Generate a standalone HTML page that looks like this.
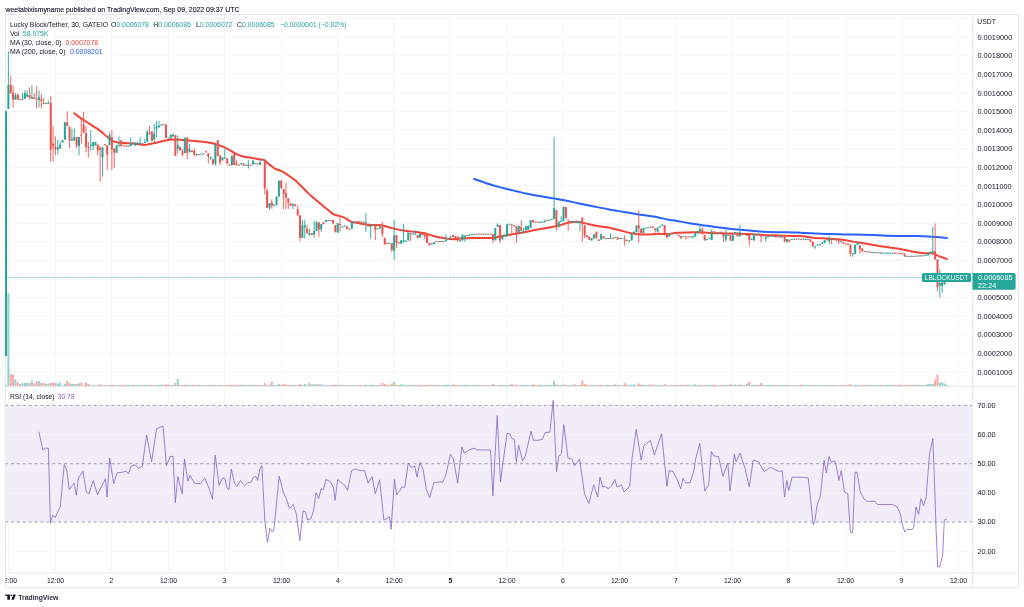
<!DOCTYPE html>
<html><head><meta charset="utf-8"><style>
html,body{margin:0;padding:0;background:#fff;width:1024px;height:607px;overflow:hidden;font-family:"Liberation Sans",sans-serif;}
svg{position:absolute;left:0;top:0;will-change:transform;}
svg text{font-family:"Liberation Sans",sans-serif;}
</style></head><body>
<svg width="1024" height="607" viewBox="0 0 1024 607">
<rect width="1024" height="607" fill="#fff"/>
<text x="5.5" y="11.7" font-size="6.9" fill="#131722" stroke="#131722" stroke-width="0.12">weetabixismyname published on TradingView.com, Sep 09, 2022 09:37 UTC</text>
<defs>
<clipPath id="cp"><rect x="5" y="14.5" width="967.5" height="372"/></clipPath>
<clipPath id="cr"><rect x="5.5" y="387.1" width="967" height="185.9"/></clipPath>
<clipPath id="ct"><rect x="5.5" y="573" width="967" height="15"/></clipPath>
</defs>
<rect x="5.5" y="14.5" width="1013" height="573.3" fill="none" stroke="#e6e8ec" stroke-width="1"/>
<g clip-path="url(#cp)">
<line x1="8.5" y1="14.5" x2="8.5" y2="386.5" stroke="#f4f5f7" stroke-width="1"/>
<line x1="55.5" y1="14.5" x2="55.5" y2="386.5" stroke="#f4f5f7" stroke-width="1"/>
<line x1="111.5" y1="14.5" x2="111.5" y2="386.5" stroke="#f4f5f7" stroke-width="1"/>
<line x1="168.5" y1="14.5" x2="168.5" y2="386.5" stroke="#f4f5f7" stroke-width="1"/>
<line x1="224.5" y1="14.5" x2="224.5" y2="386.5" stroke="#f4f5f7" stroke-width="1"/>
<line x1="281.5" y1="14.5" x2="281.5" y2="386.5" stroke="#f4f5f7" stroke-width="1"/>
<line x1="338" y1="14.5" x2="338" y2="386.5" stroke="#f4f5f7" stroke-width="1"/>
<line x1="394" y1="14.5" x2="394" y2="386.5" stroke="#f4f5f7" stroke-width="1"/>
<line x1="450.5" y1="14.5" x2="450.5" y2="386.5" stroke="#f4f5f7" stroke-width="1"/>
<line x1="507" y1="14.5" x2="507" y2="386.5" stroke="#f4f5f7" stroke-width="1"/>
<line x1="563" y1="14.5" x2="563" y2="386.5" stroke="#f4f5f7" stroke-width="1"/>
<line x1="619.5" y1="14.5" x2="619.5" y2="386.5" stroke="#f4f5f7" stroke-width="1"/>
<line x1="676" y1="14.5" x2="676" y2="386.5" stroke="#f4f5f7" stroke-width="1"/>
<line x1="732.5" y1="14.5" x2="732.5" y2="386.5" stroke="#f4f5f7" stroke-width="1"/>
<line x1="788.5" y1="14.5" x2="788.5" y2="386.5" stroke="#f4f5f7" stroke-width="1"/>
<line x1="845.5" y1="14.5" x2="845.5" y2="386.5" stroke="#f4f5f7" stroke-width="1"/>
<line x1="901.5" y1="14.5" x2="901.5" y2="386.5" stroke="#f4f5f7" stroke-width="1"/>
<line x1="958.5" y1="14.5" x2="958.5" y2="386.5" stroke="#f4f5f7" stroke-width="1"/>
<line x1="5.5" y1="18.6" x2="972.5" y2="18.6" stroke="#f4f5f7" stroke-width="1"/>
<line x1="5.5" y1="37.2" x2="972.5" y2="37.2" stroke="#f4f5f7" stroke-width="1"/>
<line x1="5.5" y1="55.8" x2="972.5" y2="55.8" stroke="#f4f5f7" stroke-width="1"/>
<line x1="5.5" y1="74.4" x2="972.5" y2="74.4" stroke="#f4f5f7" stroke-width="1"/>
<line x1="5.5" y1="93.0" x2="972.5" y2="93.0" stroke="#f4f5f7" stroke-width="1"/>
<line x1="5.5" y1="111.6" x2="972.5" y2="111.6" stroke="#f4f5f7" stroke-width="1"/>
<line x1="5.5" y1="130.2" x2="972.5" y2="130.2" stroke="#f4f5f7" stroke-width="1"/>
<line x1="5.5" y1="148.8" x2="972.5" y2="148.8" stroke="#f4f5f7" stroke-width="1"/>
<line x1="5.5" y1="167.4" x2="972.5" y2="167.4" stroke="#f4f5f7" stroke-width="1"/>
<line x1="5.5" y1="186.0" x2="972.5" y2="186.0" stroke="#f4f5f7" stroke-width="1"/>
<line x1="5.5" y1="204.6" x2="972.5" y2="204.6" stroke="#f4f5f7" stroke-width="1"/>
<line x1="5.5" y1="223.2" x2="972.5" y2="223.2" stroke="#f4f5f7" stroke-width="1"/>
<line x1="5.5" y1="241.8" x2="972.5" y2="241.8" stroke="#f4f5f7" stroke-width="1"/>
<line x1="5.5" y1="260.4" x2="972.5" y2="260.4" stroke="#f4f5f7" stroke-width="1"/>
<line x1="5.5" y1="279.0" x2="972.5" y2="279.0" stroke="#f4f5f7" stroke-width="1"/>
<line x1="5.5" y1="297.6" x2="972.5" y2="297.6" stroke="#f4f5f7" stroke-width="1"/>
<line x1="5.5" y1="316.2" x2="972.5" y2="316.2" stroke="#f4f5f7" stroke-width="1"/>
<line x1="5.5" y1="334.8" x2="972.5" y2="334.8" stroke="#f4f5f7" stroke-width="1"/>
<line x1="5.5" y1="353.4" x2="972.5" y2="353.4" stroke="#f4f5f7" stroke-width="1"/>
<line x1="5.5" y1="372.0" x2="972.5" y2="372.0" stroke="#f4f5f7" stroke-width="1"/>
<rect x="5.05" y="385.00" width="2.0" height="1.00" fill="#92d3cc"/>
<rect x="7.40" y="293.00" width="2.0" height="93.00" fill="#92d3cc"/>
<rect x="9.75" y="374.00" width="2.0" height="12.00" fill="#f7a9a7"/>
<rect x="12.11" y="375.00" width="2.0" height="11.00" fill="#f7a9a7"/>
<rect x="14.46" y="379.20" width="2.0" height="6.80" fill="#92d3cc"/>
<rect x="16.81" y="382.10" width="2.0" height="3.90" fill="#f7a9a7"/>
<rect x="19.16" y="384.00" width="2.0" height="2.00" fill="#f7a9a7"/>
<rect x="21.51" y="383.00" width="2.0" height="3.00" fill="#92d3cc"/>
<rect x="23.87" y="382.80" width="2.0" height="3.20" fill="#92d3cc"/>
<rect x="26.22" y="383.00" width="2.0" height="3.00" fill="#92d3cc"/>
<rect x="28.57" y="383.00" width="2.0" height="3.00" fill="#f7a9a7"/>
<rect x="30.92" y="380.50" width="2.0" height="5.50" fill="#92d3cc"/>
<rect x="33.28" y="383.50" width="2.0" height="2.50" fill="#f7a9a7"/>
<rect x="35.63" y="381.00" width="2.0" height="5.00" fill="#f7a9a7"/>
<rect x="37.98" y="381.00" width="2.0" height="5.00" fill="#92d3cc"/>
<rect x="40.33" y="383.00" width="2.0" height="3.00" fill="#f7a9a7"/>
<rect x="42.68" y="383.00" width="2.0" height="3.00" fill="#f7a9a7"/>
<rect x="45.04" y="384.00" width="2.0" height="2.00" fill="#92d3cc"/>
<rect x="47.39" y="383.50" width="2.0" height="2.50" fill="#92d3cc"/>
<rect x="49.74" y="382.80" width="2.0" height="3.20" fill="#f7a9a7"/>
<rect x="52.09" y="382.80" width="2.0" height="3.20" fill="#f7a9a7"/>
<rect x="54.44" y="383.00" width="2.0" height="3.00" fill="#f7a9a7"/>
<rect x="56.80" y="383.50" width="2.0" height="2.50" fill="#92d3cc"/>
<rect x="59.15" y="382.40" width="2.0" height="3.60" fill="#92d3cc"/>
<rect x="61.50" y="385.30" width="2.0" height="0.70" fill="#92d3cc"/>
<rect x="63.85" y="384.00" width="2.0" height="2.00" fill="#92d3cc"/>
<rect x="66.20" y="380.50" width="2.0" height="5.50" fill="#f7a9a7"/>
<rect x="68.56" y="383.00" width="2.0" height="3.00" fill="#f7a9a7"/>
<rect x="70.91" y="384.00" width="2.0" height="2.00" fill="#92d3cc"/>
<rect x="73.26" y="384.00" width="2.0" height="2.00" fill="#92d3cc"/>
<rect x="75.61" y="384.00" width="2.0" height="2.00" fill="#f7a9a7"/>
<rect x="77.97" y="383.40" width="2.0" height="2.60" fill="#92d3cc"/>
<rect x="80.32" y="383.00" width="2.0" height="3.00" fill="#f7a9a7"/>
<rect x="82.67" y="385.00" width="2.0" height="1.00" fill="#f7a9a7"/>
<rect x="85.02" y="382.40" width="2.0" height="3.60" fill="#f7a9a7"/>
<rect x="87.37" y="383.80" width="2.0" height="2.20" fill="#f7a9a7"/>
<rect x="89.73" y="384.70" width="2.0" height="1.30" fill="#92d3cc"/>
<rect x="92.08" y="385.00" width="2.0" height="1.00" fill="#92d3cc"/>
<rect x="94.43" y="385.30" width="2.0" height="0.70" fill="#92d3cc"/>
<rect x="96.78" y="385.00" width="2.0" height="1.00" fill="#f7a9a7"/>
<rect x="99.13" y="384.30" width="2.0" height="1.70" fill="#f7a9a7"/>
<rect x="101.49" y="385.00" width="2.0" height="1.00" fill="#92d3cc"/>
<rect x="103.84" y="385.00" width="2.0" height="1.00" fill="#f7a9a7"/>
<rect x="106.19" y="384.88" width="2.0" height="1.12" fill="#f7a9a7"/>
<rect x="108.54" y="384.95" width="2.0" height="1.05" fill="#92d3cc"/>
<rect x="110.89" y="384.86" width="2.0" height="1.14" fill="#f7a9a7"/>
<rect x="113.25" y="384.85" width="2.0" height="1.15" fill="#f7a9a7"/>
<rect x="115.60" y="385.07" width="2.0" height="0.93" fill="#92d3cc"/>
<rect x="117.95" y="385.09" width="2.0" height="0.91" fill="#92d3cc"/>
<rect x="120.30" y="384.77" width="2.0" height="1.23" fill="#f7a9a7"/>
<rect x="122.66" y="385.00" width="2.0" height="1.00" fill="#f7a9a7"/>
<rect x="125.01" y="385.01" width="2.0" height="0.99" fill="#f7a9a7"/>
<rect x="127.36" y="384.70" width="2.0" height="1.30" fill="#92d3cc"/>
<rect x="129.71" y="384.91" width="2.0" height="1.09" fill="#92d3cc"/>
<rect x="132.06" y="384.77" width="2.0" height="1.23" fill="#f7a9a7"/>
<rect x="134.42" y="384.91" width="2.0" height="1.09" fill="#92d3cc"/>
<rect x="136.77" y="384.84" width="2.0" height="1.16" fill="#92d3cc"/>
<rect x="139.12" y="385.04" width="2.0" height="0.96" fill="#92d3cc"/>
<rect x="141.47" y="384.85" width="2.0" height="1.15" fill="#f7a9a7"/>
<rect x="143.82" y="384.75" width="2.0" height="1.25" fill="#92d3cc"/>
<rect x="146.18" y="384.89" width="2.0" height="1.11" fill="#92d3cc"/>
<rect x="148.53" y="384.80" width="2.0" height="1.20" fill="#f7a9a7"/>
<rect x="150.88" y="384.83" width="2.0" height="1.17" fill="#f7a9a7"/>
<rect x="153.23" y="385.07" width="2.0" height="0.93" fill="#92d3cc"/>
<rect x="155.58" y="384.80" width="2.0" height="1.20" fill="#92d3cc"/>
<rect x="157.94" y="384.86" width="2.0" height="1.14" fill="#92d3cc"/>
<rect x="160.29" y="384.40" width="2.0" height="1.60" fill="#92d3cc"/>
<rect x="162.64" y="384.98" width="2.0" height="1.02" fill="#f7a9a7"/>
<rect x="164.99" y="384.40" width="2.0" height="1.60" fill="#f7a9a7"/>
<rect x="167.34" y="384.40" width="2.0" height="1.60" fill="#f7a9a7"/>
<rect x="169.70" y="385.09" width="2.0" height="0.91" fill="#92d3cc"/>
<rect x="172.05" y="384.75" width="2.0" height="1.25" fill="#92d3cc"/>
<rect x="174.40" y="383.00" width="2.0" height="3.00" fill="#f7a9a7"/>
<rect x="176.75" y="378.60" width="2.0" height="7.40" fill="#92d3cc"/>
<rect x="179.11" y="384.91" width="2.0" height="1.09" fill="#f7a9a7"/>
<rect x="181.46" y="384.81" width="2.0" height="1.19" fill="#f7a9a7"/>
<rect x="183.81" y="384.75" width="2.0" height="1.25" fill="#92d3cc"/>
<rect x="186.16" y="384.81" width="2.0" height="1.19" fill="#f7a9a7"/>
<rect x="188.51" y="384.73" width="2.0" height="1.27" fill="#92d3cc"/>
<rect x="190.87" y="384.94" width="2.0" height="1.06" fill="#f7a9a7"/>
<rect x="193.22" y="384.78" width="2.0" height="1.22" fill="#f7a9a7"/>
<rect x="195.57" y="384.92" width="2.0" height="1.08" fill="#92d3cc"/>
<rect x="197.92" y="384.73" width="2.0" height="1.27" fill="#f7a9a7"/>
<rect x="200.27" y="384.75" width="2.0" height="1.25" fill="#92d3cc"/>
<rect x="202.63" y="385.06" width="2.0" height="0.94" fill="#92d3cc"/>
<rect x="204.98" y="385.05" width="2.0" height="0.95" fill="#f7a9a7"/>
<rect x="207.33" y="385.01" width="2.0" height="0.99" fill="#f7a9a7"/>
<rect x="209.68" y="384.71" width="2.0" height="1.29" fill="#92d3cc"/>
<rect x="212.03" y="384.93" width="2.0" height="1.07" fill="#f7a9a7"/>
<rect x="214.39" y="384.85" width="2.0" height="1.15" fill="#92d3cc"/>
<rect x="216.74" y="384.98" width="2.0" height="1.02" fill="#f7a9a7"/>
<rect x="219.09" y="384.90" width="2.0" height="1.10" fill="#f7a9a7"/>
<rect x="221.44" y="384.95" width="2.0" height="1.05" fill="#92d3cc"/>
<rect x="223.80" y="384.96" width="2.0" height="1.04" fill="#92d3cc"/>
<rect x="226.15" y="384.87" width="2.0" height="1.13" fill="#f7a9a7"/>
<rect x="228.50" y="384.87" width="2.0" height="1.13" fill="#f7a9a7"/>
<rect x="230.85" y="384.74" width="2.0" height="1.26" fill="#92d3cc"/>
<rect x="233.20" y="384.83" width="2.0" height="1.17" fill="#f7a9a7"/>
<rect x="235.56" y="384.73" width="2.0" height="1.27" fill="#f7a9a7"/>
<rect x="237.91" y="384.76" width="2.0" height="1.24" fill="#f7a9a7"/>
<rect x="240.26" y="384.70" width="2.0" height="1.30" fill="#92d3cc"/>
<rect x="242.61" y="384.83" width="2.0" height="1.17" fill="#f7a9a7"/>
<rect x="244.96" y="385.03" width="2.0" height="0.97" fill="#92d3cc"/>
<rect x="247.32" y="384.76" width="2.0" height="1.24" fill="#92d3cc"/>
<rect x="249.67" y="384.71" width="2.0" height="1.29" fill="#f7a9a7"/>
<rect x="252.02" y="384.74" width="2.0" height="1.26" fill="#92d3cc"/>
<rect x="254.37" y="384.87" width="2.0" height="1.13" fill="#92d3cc"/>
<rect x="256.72" y="384.81" width="2.0" height="1.19" fill="#f7a9a7"/>
<rect x="259.08" y="385.02" width="2.0" height="0.98" fill="#92d3cc"/>
<rect x="261.43" y="384.77" width="2.0" height="1.23" fill="#92d3cc"/>
<rect x="263.78" y="383.00" width="2.0" height="3.00" fill="#f7a9a7"/>
<rect x="266.13" y="384.87" width="2.0" height="1.13" fill="#f7a9a7"/>
<rect x="268.49" y="384.40" width="2.0" height="1.60" fill="#92d3cc"/>
<rect x="270.84" y="381.70" width="2.0" height="4.30" fill="#f7a9a7"/>
<rect x="273.19" y="384.99" width="2.0" height="1.01" fill="#92d3cc"/>
<rect x="275.54" y="385.07" width="2.0" height="0.93" fill="#92d3cc"/>
<rect x="277.89" y="384.00" width="2.0" height="2.00" fill="#92d3cc"/>
<rect x="280.25" y="384.76" width="2.0" height="1.24" fill="#f7a9a7"/>
<rect x="282.60" y="384.00" width="2.0" height="2.00" fill="#f7a9a7"/>
<rect x="284.95" y="384.70" width="2.0" height="1.30" fill="#f7a9a7"/>
<rect x="287.30" y="385.06" width="2.0" height="0.94" fill="#f7a9a7"/>
<rect x="289.65" y="384.78" width="2.0" height="1.22" fill="#f7a9a7"/>
<rect x="292.01" y="384.94" width="2.0" height="1.06" fill="#92d3cc"/>
<rect x="294.36" y="385.04" width="2.0" height="0.96" fill="#f7a9a7"/>
<rect x="296.71" y="384.98" width="2.0" height="1.02" fill="#f7a9a7"/>
<rect x="299.06" y="384.00" width="2.0" height="2.00" fill="#f7a9a7"/>
<rect x="301.41" y="384.79" width="2.0" height="1.21" fill="#92d3cc"/>
<rect x="303.77" y="384.00" width="2.0" height="2.00" fill="#92d3cc"/>
<rect x="306.12" y="384.75" width="2.0" height="1.25" fill="#f7a9a7"/>
<rect x="308.47" y="383.00" width="2.0" height="3.00" fill="#92d3cc"/>
<rect x="310.82" y="384.20" width="2.0" height="1.80" fill="#f7a9a7"/>
<rect x="313.18" y="384.20" width="2.0" height="1.80" fill="#92d3cc"/>
<rect x="315.53" y="384.20" width="2.0" height="1.80" fill="#92d3cc"/>
<rect x="317.88" y="384.20" width="2.0" height="1.80" fill="#f7a9a7"/>
<rect x="320.23" y="384.40" width="2.0" height="1.60" fill="#92d3cc"/>
<rect x="322.58" y="385.08" width="2.0" height="0.92" fill="#f7a9a7"/>
<rect x="324.94" y="384.85" width="2.0" height="1.15" fill="#92d3cc"/>
<rect x="327.29" y="385.08" width="2.0" height="0.92" fill="#92d3cc"/>
<rect x="329.64" y="384.81" width="2.0" height="1.19" fill="#f7a9a7"/>
<rect x="331.99" y="384.97" width="2.0" height="1.03" fill="#f7a9a7"/>
<rect x="334.34" y="384.75" width="2.0" height="1.25" fill="#f7a9a7"/>
<rect x="336.70" y="384.71" width="2.0" height="1.29" fill="#92d3cc"/>
<rect x="339.05" y="384.90" width="2.0" height="1.10" fill="#f7a9a7"/>
<rect x="341.40" y="384.70" width="2.0" height="1.30" fill="#92d3cc"/>
<rect x="343.75" y="384.98" width="2.0" height="1.02" fill="#92d3cc"/>
<rect x="346.10" y="385.07" width="2.0" height="0.93" fill="#f7a9a7"/>
<rect x="348.46" y="384.86" width="2.0" height="1.14" fill="#f7a9a7"/>
<rect x="350.81" y="385.09" width="2.0" height="0.91" fill="#92d3cc"/>
<rect x="353.16" y="385.02" width="2.0" height="0.98" fill="#92d3cc"/>
<rect x="355.51" y="384.94" width="2.0" height="1.06" fill="#f7a9a7"/>
<rect x="357.87" y="384.86" width="2.0" height="1.14" fill="#f7a9a7"/>
<rect x="360.22" y="385.04" width="2.0" height="0.96" fill="#92d3cc"/>
<rect x="362.57" y="385.08" width="2.0" height="0.92" fill="#f7a9a7"/>
<rect x="364.92" y="384.75" width="2.0" height="1.25" fill="#92d3cc"/>
<rect x="367.27" y="384.97" width="2.0" height="1.03" fill="#f7a9a7"/>
<rect x="369.63" y="384.72" width="2.0" height="1.28" fill="#92d3cc"/>
<rect x="371.98" y="384.74" width="2.0" height="1.26" fill="#92d3cc"/>
<rect x="374.33" y="384.95" width="2.0" height="1.05" fill="#f7a9a7"/>
<rect x="376.68" y="384.92" width="2.0" height="1.08" fill="#92d3cc"/>
<rect x="379.03" y="384.89" width="2.0" height="1.11" fill="#92d3cc"/>
<rect x="381.39" y="382.50" width="2.0" height="3.50" fill="#f7a9a7"/>
<rect x="383.74" y="384.00" width="2.0" height="2.00" fill="#f7a9a7"/>
<rect x="386.09" y="384.84" width="2.0" height="1.16" fill="#f7a9a7"/>
<rect x="388.44" y="384.86" width="2.0" height="1.14" fill="#92d3cc"/>
<rect x="390.79" y="383.50" width="2.0" height="2.50" fill="#f7a9a7"/>
<rect x="393.15" y="381.70" width="2.0" height="4.30" fill="#92d3cc"/>
<rect x="395.50" y="384.88" width="2.0" height="1.12" fill="#f7a9a7"/>
<rect x="397.85" y="384.85" width="2.0" height="1.15" fill="#f7a9a7"/>
<rect x="400.20" y="384.40" width="2.0" height="1.60" fill="#92d3cc"/>
<rect x="402.55" y="384.72" width="2.0" height="1.28" fill="#92d3cc"/>
<rect x="404.91" y="384.90" width="2.0" height="1.10" fill="#92d3cc"/>
<rect x="407.26" y="384.93" width="2.0" height="1.07" fill="#92d3cc"/>
<rect x="409.61" y="384.81" width="2.0" height="1.19" fill="#f7a9a7"/>
<rect x="411.96" y="385.00" width="2.0" height="1.00" fill="#92d3cc"/>
<rect x="414.32" y="384.98" width="2.0" height="1.02" fill="#92d3cc"/>
<rect x="416.67" y="384.71" width="2.0" height="1.29" fill="#f7a9a7"/>
<rect x="419.02" y="384.89" width="2.0" height="1.11" fill="#92d3cc"/>
<rect x="421.37" y="384.88" width="2.0" height="1.12" fill="#f7a9a7"/>
<rect x="423.72" y="385.10" width="2.0" height="0.90" fill="#f7a9a7"/>
<rect x="426.08" y="384.93" width="2.0" height="1.07" fill="#f7a9a7"/>
<rect x="428.43" y="384.40" width="2.0" height="1.60" fill="#f7a9a7"/>
<rect x="430.78" y="384.87" width="2.0" height="1.13" fill="#92d3cc"/>
<rect x="433.13" y="385.09" width="2.0" height="0.91" fill="#92d3cc"/>
<rect x="435.48" y="384.85" width="2.0" height="1.15" fill="#f7a9a7"/>
<rect x="437.84" y="384.85" width="2.0" height="1.15" fill="#92d3cc"/>
<rect x="440.19" y="385.08" width="2.0" height="0.92" fill="#f7a9a7"/>
<rect x="442.54" y="384.85" width="2.0" height="1.15" fill="#92d3cc"/>
<rect x="444.89" y="384.91" width="2.0" height="1.09" fill="#92d3cc"/>
<rect x="447.24" y="384.83" width="2.0" height="1.17" fill="#92d3cc"/>
<rect x="449.60" y="384.96" width="2.0" height="1.04" fill="#92d3cc"/>
<rect x="451.95" y="384.40" width="2.0" height="1.60" fill="#f7a9a7"/>
<rect x="454.30" y="384.82" width="2.0" height="1.18" fill="#f7a9a7"/>
<rect x="456.65" y="384.80" width="2.0" height="1.20" fill="#f7a9a7"/>
<rect x="459.01" y="385.09" width="2.0" height="0.91" fill="#92d3cc"/>
<rect x="461.36" y="385.08" width="2.0" height="0.92" fill="#92d3cc"/>
<rect x="463.71" y="384.83" width="2.0" height="1.17" fill="#92d3cc"/>
<rect x="466.06" y="384.71" width="2.0" height="1.29" fill="#f7a9a7"/>
<rect x="468.41" y="385.00" width="2.0" height="1.00" fill="#92d3cc"/>
<rect x="470.77" y="384.92" width="2.0" height="1.08" fill="#92d3cc"/>
<rect x="473.12" y="384.86" width="2.0" height="1.14" fill="#92d3cc"/>
<rect x="475.47" y="384.97" width="2.0" height="1.03" fill="#f7a9a7"/>
<rect x="477.82" y="384.95" width="2.0" height="1.05" fill="#92d3cc"/>
<rect x="480.17" y="384.97" width="2.0" height="1.03" fill="#f7a9a7"/>
<rect x="482.53" y="384.95" width="2.0" height="1.05" fill="#92d3cc"/>
<rect x="484.88" y="384.86" width="2.0" height="1.14" fill="#f7a9a7"/>
<rect x="487.23" y="384.98" width="2.0" height="1.02" fill="#92d3cc"/>
<rect x="489.58" y="384.95" width="2.0" height="1.05" fill="#f7a9a7"/>
<rect x="491.93" y="384.00" width="2.0" height="2.00" fill="#f7a9a7"/>
<rect x="494.29" y="384.79" width="2.0" height="1.21" fill="#92d3cc"/>
<rect x="496.64" y="385.09" width="2.0" height="0.91" fill="#92d3cc"/>
<rect x="498.99" y="384.87" width="2.0" height="1.13" fill="#f7a9a7"/>
<rect x="501.34" y="384.81" width="2.0" height="1.19" fill="#92d3cc"/>
<rect x="503.70" y="384.98" width="2.0" height="1.02" fill="#92d3cc"/>
<rect x="506.05" y="385.01" width="2.0" height="0.99" fill="#92d3cc"/>
<rect x="508.40" y="384.78" width="2.0" height="1.22" fill="#92d3cc"/>
<rect x="510.75" y="384.00" width="2.0" height="2.00" fill="#f7a9a7"/>
<rect x="513.10" y="385.00" width="2.0" height="1.00" fill="#f7a9a7"/>
<rect x="515.46" y="384.40" width="2.0" height="1.60" fill="#f7a9a7"/>
<rect x="517.81" y="385.03" width="2.0" height="0.97" fill="#92d3cc"/>
<rect x="520.16" y="384.93" width="2.0" height="1.07" fill="#f7a9a7"/>
<rect x="522.51" y="384.82" width="2.0" height="1.18" fill="#92d3cc"/>
<rect x="524.86" y="385.06" width="2.0" height="0.94" fill="#92d3cc"/>
<rect x="527.22" y="384.97" width="2.0" height="1.03" fill="#92d3cc"/>
<rect x="529.57" y="384.97" width="2.0" height="1.03" fill="#92d3cc"/>
<rect x="531.92" y="384.40" width="2.0" height="1.60" fill="#f7a9a7"/>
<rect x="534.27" y="384.77" width="2.0" height="1.23" fill="#f7a9a7"/>
<rect x="536.62" y="384.92" width="2.0" height="1.08" fill="#f7a9a7"/>
<rect x="538.98" y="384.76" width="2.0" height="1.24" fill="#92d3cc"/>
<rect x="541.33" y="385.03" width="2.0" height="0.97" fill="#92d3cc"/>
<rect x="543.68" y="384.97" width="2.0" height="1.03" fill="#92d3cc"/>
<rect x="546.03" y="384.84" width="2.0" height="1.16" fill="#f7a9a7"/>
<rect x="548.39" y="384.75" width="2.0" height="1.25" fill="#92d3cc"/>
<rect x="550.74" y="384.92" width="2.0" height="1.08" fill="#92d3cc"/>
<rect x="553.09" y="381.10" width="2.0" height="4.90" fill="#92d3cc"/>
<rect x="555.44" y="384.40" width="2.0" height="1.60" fill="#f7a9a7"/>
<rect x="557.79" y="385.01" width="2.0" height="0.99" fill="#92d3cc"/>
<rect x="560.15" y="385.05" width="2.0" height="0.95" fill="#92d3cc"/>
<rect x="562.50" y="384.40" width="2.0" height="1.60" fill="#92d3cc"/>
<rect x="564.85" y="384.89" width="2.0" height="1.11" fill="#f7a9a7"/>
<rect x="567.20" y="385.02" width="2.0" height="0.98" fill="#f7a9a7"/>
<rect x="569.55" y="384.78" width="2.0" height="1.22" fill="#92d3cc"/>
<rect x="571.91" y="384.76" width="2.0" height="1.24" fill="#92d3cc"/>
<rect x="574.26" y="384.40" width="2.0" height="1.60" fill="#f7a9a7"/>
<rect x="576.61" y="385.03" width="2.0" height="0.97" fill="#92d3cc"/>
<rect x="578.96" y="384.99" width="2.0" height="1.01" fill="#92d3cc"/>
<rect x="581.31" y="380.50" width="2.0" height="5.50" fill="#f7a9a7"/>
<rect x="583.67" y="384.00" width="2.0" height="2.00" fill="#f7a9a7"/>
<rect x="586.02" y="384.78" width="2.0" height="1.22" fill="#f7a9a7"/>
<rect x="588.37" y="384.84" width="2.0" height="1.16" fill="#f7a9a7"/>
<rect x="590.72" y="384.78" width="2.0" height="1.22" fill="#92d3cc"/>
<rect x="593.07" y="384.96" width="2.0" height="1.04" fill="#92d3cc"/>
<rect x="595.43" y="385.05" width="2.0" height="0.95" fill="#f7a9a7"/>
<rect x="597.78" y="384.98" width="2.0" height="1.02" fill="#f7a9a7"/>
<rect x="600.13" y="384.78" width="2.0" height="1.22" fill="#92d3cc"/>
<rect x="602.48" y="384.99" width="2.0" height="1.01" fill="#f7a9a7"/>
<rect x="604.84" y="384.96" width="2.0" height="1.04" fill="#92d3cc"/>
<rect x="607.19" y="384.93" width="2.0" height="1.07" fill="#f7a9a7"/>
<rect x="609.54" y="384.93" width="2.0" height="1.07" fill="#92d3cc"/>
<rect x="611.89" y="384.94" width="2.0" height="1.06" fill="#f7a9a7"/>
<rect x="614.24" y="384.40" width="2.0" height="1.60" fill="#92d3cc"/>
<rect x="616.60" y="384.73" width="2.0" height="1.27" fill="#f7a9a7"/>
<rect x="618.95" y="385.04" width="2.0" height="0.96" fill="#92d3cc"/>
<rect x="621.30" y="385.10" width="2.0" height="0.90" fill="#92d3cc"/>
<rect x="623.65" y="383.00" width="2.0" height="3.00" fill="#f7a9a7"/>
<rect x="626.00" y="384.72" width="2.0" height="1.28" fill="#f7a9a7"/>
<rect x="628.36" y="384.75" width="2.0" height="1.25" fill="#92d3cc"/>
<rect x="630.71" y="384.71" width="2.0" height="1.29" fill="#92d3cc"/>
<rect x="633.06" y="384.40" width="2.0" height="1.60" fill="#92d3cc"/>
<rect x="635.41" y="384.93" width="2.0" height="1.07" fill="#92d3cc"/>
<rect x="637.76" y="383.50" width="2.0" height="2.50" fill="#f7a9a7"/>
<rect x="640.12" y="384.72" width="2.0" height="1.28" fill="#f7a9a7"/>
<rect x="642.47" y="384.73" width="2.0" height="1.27" fill="#92d3cc"/>
<rect x="644.82" y="385.01" width="2.0" height="0.99" fill="#92d3cc"/>
<rect x="647.17" y="384.80" width="2.0" height="1.20" fill="#92d3cc"/>
<rect x="649.53" y="384.40" width="2.0" height="1.60" fill="#f7a9a7"/>
<rect x="651.88" y="384.77" width="2.0" height="1.23" fill="#f7a9a7"/>
<rect x="654.23" y="384.83" width="2.0" height="1.17" fill="#f7a9a7"/>
<rect x="656.58" y="384.89" width="2.0" height="1.11" fill="#92d3cc"/>
<rect x="658.93" y="384.98" width="2.0" height="1.02" fill="#92d3cc"/>
<rect x="661.29" y="384.96" width="2.0" height="1.04" fill="#92d3cc"/>
<rect x="663.64" y="384.00" width="2.0" height="2.00" fill="#f7a9a7"/>
<rect x="665.99" y="385.01" width="2.0" height="0.99" fill="#f7a9a7"/>
<rect x="668.34" y="385.07" width="2.0" height="0.93" fill="#92d3cc"/>
<rect x="670.69" y="384.86" width="2.0" height="1.14" fill="#f7a9a7"/>
<rect x="673.05" y="384.99" width="2.0" height="1.01" fill="#92d3cc"/>
<rect x="675.40" y="384.78" width="2.0" height="1.22" fill="#f7a9a7"/>
<rect x="677.75" y="385.08" width="2.0" height="0.92" fill="#f7a9a7"/>
<rect x="680.10" y="384.74" width="2.0" height="1.26" fill="#f7a9a7"/>
<rect x="682.45" y="384.82" width="2.0" height="1.18" fill="#92d3cc"/>
<rect x="684.81" y="384.73" width="2.0" height="1.27" fill="#f7a9a7"/>
<rect x="687.16" y="384.74" width="2.0" height="1.26" fill="#f7a9a7"/>
<rect x="689.51" y="384.74" width="2.0" height="1.26" fill="#92d3cc"/>
<rect x="691.86" y="384.87" width="2.0" height="1.13" fill="#92d3cc"/>
<rect x="694.22" y="384.40" width="2.0" height="1.60" fill="#92d3cc"/>
<rect x="696.57" y="385.09" width="2.0" height="0.91" fill="#92d3cc"/>
<rect x="698.92" y="384.80" width="2.0" height="1.20" fill="#92d3cc"/>
<rect x="701.27" y="385.03" width="2.0" height="0.97" fill="#f7a9a7"/>
<rect x="703.62" y="384.98" width="2.0" height="1.02" fill="#f7a9a7"/>
<rect x="705.98" y="384.83" width="2.0" height="1.17" fill="#92d3cc"/>
<rect x="708.33" y="384.89" width="2.0" height="1.11" fill="#92d3cc"/>
<rect x="710.68" y="384.93" width="2.0" height="1.07" fill="#92d3cc"/>
<rect x="713.03" y="384.72" width="2.0" height="1.28" fill="#f7a9a7"/>
<rect x="715.38" y="384.86" width="2.0" height="1.14" fill="#f7a9a7"/>
<rect x="717.74" y="384.96" width="2.0" height="1.04" fill="#92d3cc"/>
<rect x="720.09" y="385.00" width="2.0" height="1.00" fill="#f7a9a7"/>
<rect x="722.44" y="384.76" width="2.0" height="1.24" fill="#f7a9a7"/>
<rect x="724.79" y="384.91" width="2.0" height="1.09" fill="#92d3cc"/>
<rect x="727.14" y="384.79" width="2.0" height="1.21" fill="#92d3cc"/>
<rect x="729.50" y="384.00" width="2.0" height="2.00" fill="#f7a9a7"/>
<rect x="731.85" y="384.96" width="2.0" height="1.04" fill="#92d3cc"/>
<rect x="734.20" y="384.40" width="2.0" height="1.60" fill="#92d3cc"/>
<rect x="736.55" y="385.02" width="2.0" height="0.98" fill="#f7a9a7"/>
<rect x="738.91" y="384.40" width="2.0" height="1.60" fill="#92d3cc"/>
<rect x="741.26" y="384.89" width="2.0" height="1.11" fill="#f7a9a7"/>
<rect x="743.61" y="384.77" width="2.0" height="1.23" fill="#f7a9a7"/>
<rect x="745.96" y="383.50" width="2.0" height="2.50" fill="#92d3cc"/>
<rect x="748.31" y="381.70" width="2.0" height="4.30" fill="#f7a9a7"/>
<rect x="750.67" y="385.03" width="2.0" height="0.97" fill="#92d3cc"/>
<rect x="753.02" y="384.78" width="2.0" height="1.22" fill="#92d3cc"/>
<rect x="755.37" y="384.73" width="2.0" height="1.27" fill="#f7a9a7"/>
<rect x="757.72" y="384.78" width="2.0" height="1.22" fill="#92d3cc"/>
<rect x="760.07" y="383.00" width="2.0" height="3.00" fill="#f7a9a7"/>
<rect x="762.43" y="384.77" width="2.0" height="1.23" fill="#f7a9a7"/>
<rect x="764.78" y="385.10" width="2.0" height="0.90" fill="#92d3cc"/>
<rect x="767.13" y="384.85" width="2.0" height="1.15" fill="#92d3cc"/>
<rect x="769.48" y="384.75" width="2.0" height="1.25" fill="#92d3cc"/>
<rect x="771.83" y="385.08" width="2.0" height="0.92" fill="#92d3cc"/>
<rect x="774.19" y="384.99" width="2.0" height="1.01" fill="#f7a9a7"/>
<rect x="776.54" y="384.99" width="2.0" height="1.01" fill="#f7a9a7"/>
<rect x="778.89" y="384.89" width="2.0" height="1.11" fill="#92d3cc"/>
<rect x="781.24" y="384.93" width="2.0" height="1.07" fill="#92d3cc"/>
<rect x="783.60" y="384.91" width="2.0" height="1.09" fill="#f7a9a7"/>
<rect x="785.95" y="384.79" width="2.0" height="1.21" fill="#92d3cc"/>
<rect x="788.30" y="385.10" width="2.0" height="0.90" fill="#f7a9a7"/>
<rect x="790.65" y="385.08" width="2.0" height="0.92" fill="#92d3cc"/>
<rect x="793.00" y="385.05" width="2.0" height="0.95" fill="#92d3cc"/>
<rect x="795.36" y="385.05" width="2.0" height="0.95" fill="#f7a9a7"/>
<rect x="797.71" y="385.07" width="2.0" height="0.93" fill="#92d3cc"/>
<rect x="800.06" y="384.71" width="2.0" height="1.29" fill="#f7a9a7"/>
<rect x="802.41" y="384.76" width="2.0" height="1.24" fill="#92d3cc"/>
<rect x="804.76" y="385.07" width="2.0" height="0.93" fill="#92d3cc"/>
<rect x="807.12" y="384.90" width="2.0" height="1.10" fill="#92d3cc"/>
<rect x="809.47" y="384.97" width="2.0" height="1.03" fill="#f7a9a7"/>
<rect x="811.82" y="384.97" width="2.0" height="1.03" fill="#f7a9a7"/>
<rect x="814.17" y="384.96" width="2.0" height="1.04" fill="#92d3cc"/>
<rect x="816.52" y="384.84" width="2.0" height="1.16" fill="#92d3cc"/>
<rect x="818.88" y="384.87" width="2.0" height="1.13" fill="#92d3cc"/>
<rect x="821.23" y="384.96" width="2.0" height="1.04" fill="#92d3cc"/>
<rect x="823.58" y="385.02" width="2.0" height="0.98" fill="#92d3cc"/>
<rect x="825.93" y="384.97" width="2.0" height="1.03" fill="#f7a9a7"/>
<rect x="828.28" y="385.05" width="2.0" height="0.95" fill="#92d3cc"/>
<rect x="830.64" y="384.88" width="2.0" height="1.12" fill="#f7a9a7"/>
<rect x="832.99" y="384.81" width="2.0" height="1.19" fill="#92d3cc"/>
<rect x="835.34" y="384.95" width="2.0" height="1.05" fill="#f7a9a7"/>
<rect x="837.69" y="385.07" width="2.0" height="0.93" fill="#f7a9a7"/>
<rect x="840.05" y="385.03" width="2.0" height="0.97" fill="#92d3cc"/>
<rect x="842.40" y="384.95" width="2.0" height="1.05" fill="#f7a9a7"/>
<rect x="844.75" y="384.86" width="2.0" height="1.14" fill="#f7a9a7"/>
<rect x="847.10" y="384.79" width="2.0" height="1.21" fill="#f7a9a7"/>
<rect x="849.45" y="384.40" width="2.0" height="1.60" fill="#f7a9a7"/>
<rect x="851.81" y="384.95" width="2.0" height="1.05" fill="#92d3cc"/>
<rect x="854.16" y="384.78" width="2.0" height="1.22" fill="#92d3cc"/>
<rect x="856.51" y="384.85" width="2.0" height="1.15" fill="#92d3cc"/>
<rect x="858.86" y="384.93" width="2.0" height="1.07" fill="#f7a9a7"/>
<rect x="861.21" y="384.95" width="2.0" height="1.05" fill="#f7a9a7"/>
<rect x="863.57" y="384.90" width="2.0" height="1.10" fill="#f7a9a7"/>
<rect x="865.92" y="384.82" width="2.0" height="1.18" fill="#92d3cc"/>
<rect x="868.27" y="384.93" width="2.0" height="1.07" fill="#f7a9a7"/>
<rect x="870.62" y="384.82" width="2.0" height="1.18" fill="#92d3cc"/>
<rect x="872.97" y="384.92" width="2.0" height="1.08" fill="#92d3cc"/>
<rect x="875.33" y="385.00" width="2.0" height="1.00" fill="#f7a9a7"/>
<rect x="877.68" y="384.89" width="2.0" height="1.11" fill="#92d3cc"/>
<rect x="880.03" y="384.82" width="2.0" height="1.18" fill="#f7a9a7"/>
<rect x="882.38" y="385.07" width="2.0" height="0.93" fill="#92d3cc"/>
<rect x="884.74" y="384.93" width="2.0" height="1.07" fill="#92d3cc"/>
<rect x="887.09" y="384.93" width="2.0" height="1.07" fill="#92d3cc"/>
<rect x="889.44" y="384.75" width="2.0" height="1.25" fill="#92d3cc"/>
<rect x="891.79" y="384.73" width="2.0" height="1.27" fill="#92d3cc"/>
<rect x="894.14" y="384.95" width="2.0" height="1.05" fill="#f7a9a7"/>
<rect x="896.50" y="384.74" width="2.0" height="1.26" fill="#f7a9a7"/>
<rect x="898.85" y="384.78" width="2.0" height="1.22" fill="#f7a9a7"/>
<rect x="901.20" y="385.00" width="2.0" height="1.00" fill="#f7a9a7"/>
<rect x="903.55" y="384.91" width="2.0" height="1.09" fill="#f7a9a7"/>
<rect x="905.90" y="385.05" width="2.0" height="0.95" fill="#92d3cc"/>
<rect x="908.26" y="384.77" width="2.0" height="1.23" fill="#f7a9a7"/>
<rect x="910.61" y="384.84" width="2.0" height="1.16" fill="#92d3cc"/>
<rect x="912.96" y="384.75" width="2.0" height="1.25" fill="#f7a9a7"/>
<rect x="915.31" y="384.78" width="2.0" height="1.22" fill="#92d3cc"/>
<rect x="917.66" y="384.83" width="2.0" height="1.17" fill="#92d3cc"/>
<rect x="920.02" y="384.81" width="2.0" height="1.19" fill="#f7a9a7"/>
<rect x="922.37" y="384.87" width="2.0" height="1.13" fill="#92d3cc"/>
<rect x="924.72" y="385.06" width="2.0" height="0.94" fill="#92d3cc"/>
<rect x="927.07" y="384.00" width="2.0" height="2.00" fill="#92d3cc"/>
<rect x="929.43" y="384.00" width="2.0" height="2.00" fill="#92d3cc"/>
<rect x="931.78" y="383.80" width="2.0" height="2.20" fill="#92d3cc"/>
<rect x="934.13" y="379.60" width="2.0" height="6.40" fill="#f7a9a7"/>
<rect x="936.48" y="374.60" width="2.0" height="11.40" fill="#f7a9a7"/>
<rect x="938.83" y="382.60" width="2.0" height="3.40" fill="#92d3cc"/>
<rect x="941.19" y="382.60" width="2.0" height="3.40" fill="#92d3cc"/>
<rect x="943.54" y="383.60" width="2.0" height="2.40" fill="#92d3cc"/>
<rect x="945.89" y="384.80" width="2.0" height="1.20" fill="#92d3cc"/>
<path d="M74.30,113.30 C75.25,114.02 77.38,115.80 80.00,117.60 C82.62,119.40 86.67,121.93 90.00,124.10 C93.33,126.27 97.10,128.45 100.00,130.60 C102.90,132.75 104.93,135.12 107.40,137.00 C109.87,138.88 111.92,140.88 114.80,141.90 C117.68,142.92 120.98,142.77 124.70,143.10 C128.42,143.43 133.80,143.60 137.10,143.90 C140.40,144.20 141.62,145.03 144.50,144.90 C147.38,144.77 151.12,143.80 154.40,143.10 C157.68,142.40 160.92,141.32 164.20,140.70 C167.48,140.08 170.80,139.48 174.10,139.40 C177.40,139.32 179.88,139.87 184.00,140.20 C188.12,140.53 194.27,140.92 198.80,141.40 C203.33,141.88 207.08,142.20 211.20,143.10 C215.32,144.00 219.80,145.27 223.50,146.80 C227.20,148.33 230.30,150.73 233.40,152.30 C236.50,153.87 238.93,155.25 242.10,156.20 C245.27,157.15 249.42,157.45 252.40,158.00 C255.38,158.55 258.07,159.18 260.00,159.50 C261.93,159.82 262.68,159.28 264.00,159.90 C265.32,160.52 266.58,162.10 267.90,163.20 C269.22,164.30 270.58,165.52 271.90,166.50 C273.22,167.48 274.48,168.45 275.80,169.10 C277.12,169.75 278.48,169.85 279.80,170.40 C281.12,170.95 282.38,171.63 283.70,172.40 C285.02,173.17 286.38,174.12 287.70,175.00 C289.02,175.88 290.28,176.77 291.60,177.70 C292.92,178.63 294.28,179.47 295.60,180.60 C296.92,181.73 298.18,183.18 299.50,184.50 C300.82,185.82 302.18,187.18 303.50,188.50 C304.82,189.82 306.08,191.13 307.40,192.40 C308.72,193.67 310.08,194.93 311.40,196.10 C312.72,197.27 313.98,198.30 315.30,199.40 C316.62,200.50 317.98,201.60 319.30,202.70 C320.62,203.80 321.88,204.90 323.20,206.00 C324.52,207.10 325.88,208.20 327.20,209.30 C328.52,210.40 329.90,211.72 331.10,212.60 C332.30,213.48 333.08,214.05 334.40,214.60 C335.72,215.15 337.57,215.47 339.00,215.90 C340.43,216.33 341.67,216.65 343.00,217.20 C344.33,217.75 345.83,218.55 347.00,219.20 C348.17,219.85 348.48,220.50 350.00,221.10 C351.52,221.70 353.02,222.18 356.10,222.80 C359.18,223.42 364.38,224.40 368.50,224.80 C372.62,225.20 377.65,224.85 380.80,225.20 C383.95,225.55 385.07,226.30 387.40,226.90 C389.73,227.50 391.92,228.15 394.80,228.80 C397.68,229.45 401.40,230.30 404.70,230.80 C408.00,231.30 411.30,231.38 414.60,231.80 C417.90,232.22 421.20,232.55 424.50,233.30 C427.80,234.05 431.12,235.48 434.40,236.30 C437.68,237.12 440.92,237.72 444.20,238.20 C447.48,238.68 451.47,239.15 454.10,239.20 C456.73,239.25 456.82,238.72 460.00,238.50 C463.18,238.28 467.82,238.00 473.20,237.90 C478.58,237.80 487.92,238.13 492.30,237.90 C496.68,237.67 496.10,237.10 499.50,236.50 C502.90,235.90 508.30,235.07 512.70,234.30 C517.10,233.53 521.52,232.73 525.90,231.90 C530.28,231.07 534.62,230.13 539.00,229.30 C543.38,228.47 548.70,227.57 552.20,226.90 C555.70,226.23 557.13,226.03 560.00,225.30 C562.87,224.57 566.18,223.05 569.40,222.50 C572.62,221.95 576.00,221.70 579.30,222.00 C582.60,222.30 585.90,223.58 589.20,224.30 C592.50,225.02 595.40,225.65 599.10,226.30 C602.80,226.95 607.70,227.47 611.40,228.20 C615.10,228.93 618.00,229.87 621.30,230.70 C624.60,231.53 627.90,232.58 631.20,233.20 C634.50,233.82 637.80,234.20 641.10,234.40 C644.40,234.60 648.12,234.52 651.00,234.40 C653.88,234.28 655.52,233.73 658.40,233.70 C661.28,233.67 665.57,234.33 668.30,234.20 C671.03,234.07 671.23,233.20 674.80,232.90 C678.37,232.60 685.58,232.52 689.70,232.40 C693.82,232.28 696.22,232.12 699.50,232.20 C702.78,232.28 705.28,232.70 709.40,232.90 C713.52,233.10 720.08,233.28 724.20,233.40 C728.32,233.52 729.97,233.48 734.10,233.60 C738.23,233.72 744.05,233.88 749.00,234.10 C753.95,234.32 758.87,234.68 763.80,234.90 C768.73,235.12 773.67,235.20 778.60,235.40 C783.53,235.60 789.83,235.98 793.40,236.10 C796.97,236.22 796.27,235.78 800.00,236.10 C803.73,236.42 811.40,237.60 815.80,238.00 C820.20,238.40 822.88,238.28 826.40,238.50 C829.92,238.72 833.40,238.95 836.90,239.30 C840.40,239.65 843.88,240.07 847.40,240.60 C850.92,241.13 854.48,241.93 858.00,242.50 C861.52,243.07 864.98,243.43 868.50,244.00 C872.02,244.57 875.58,245.32 879.10,245.90 C882.62,246.48 886.08,246.97 889.60,247.50 C893.12,248.03 896.68,248.48 900.20,249.10 C903.72,249.72 907.20,250.55 910.70,251.20 C914.20,251.85 917.68,252.65 921.20,253.00 C924.72,253.35 929.60,253.17 931.80,253.30 C934.00,253.43 933.30,253.37 934.40,253.80 C935.50,254.23 936.32,255.03 938.40,255.90 C940.48,256.77 945.48,258.48 946.90,259.00" fill="none" stroke="#f44336" stroke-width="2" stroke-linejoin="round" stroke-linecap="round"/>
<path d="M474.10,179.00 C476.13,179.70 482.07,181.85 486.30,183.20 C490.53,184.55 495.10,185.90 499.50,187.10 C503.90,188.30 509.83,189.70 512.70,190.40 C515.57,191.10 514.50,190.78 516.70,191.30 C518.90,191.82 522.18,192.72 525.90,193.50 C529.62,194.28 534.62,195.20 539.00,196.00 C543.38,196.80 547.95,197.58 552.20,198.30 C556.45,199.02 559.98,199.43 564.50,200.30 C569.02,201.17 574.37,202.47 579.30,203.50 C584.23,204.53 589.15,205.52 594.10,206.50 C599.05,207.48 604.05,208.50 609.00,209.40 C613.95,210.30 618.87,211.07 623.80,211.90 C628.73,212.73 633.67,213.65 638.60,214.40 C643.53,215.15 648.17,215.47 653.40,216.40 C658.63,217.33 666.43,219.32 670.00,220.00 C673.57,220.68 671.52,219.95 674.80,220.50 C678.08,221.05 684.75,222.47 689.70,223.30 C694.65,224.13 699.57,224.80 704.50,225.50 C709.43,226.20 714.37,226.88 719.30,227.50 C724.23,228.12 729.15,228.72 734.10,229.20 C739.05,229.68 744.05,229.98 749.00,230.40 C753.95,230.82 758.87,231.40 763.80,231.70 C768.73,232.00 773.67,232.08 778.60,232.20 C783.53,232.32 789.83,232.32 793.40,232.40 C796.97,232.48 796.27,232.52 800.00,232.70 C803.73,232.88 810.53,233.28 815.80,233.50 C821.07,233.72 825.45,233.82 831.60,234.00 C837.75,234.18 845.67,234.42 852.70,234.60 C859.73,234.78 866.77,234.88 873.80,235.10 C880.83,235.32 887.87,235.73 894.90,235.90 C901.93,236.07 909.85,235.97 916.00,236.10 C922.15,236.23 927.42,236.47 931.80,236.70 C936.18,236.93 939.78,237.27 942.30,237.50 C944.82,237.73 946.13,238.00 946.90,238.10" fill="none" stroke="#2962ff" stroke-width="2" stroke-linejoin="round" stroke-linecap="round"/>
<line x1="6.05" y1="111.10" x2="6.05" y2="356.00" stroke="#26a69a" stroke-width="0.9"/>
<rect x="5.05" y="111.10" width="2.0" height="244.90" fill="#26a69a"/>
<line x1="8.40" y1="51.50" x2="8.40" y2="108.90" stroke="#26a69a" stroke-width="0.9"/>
<rect x="7.40" y="84.90" width="2.0" height="24.00" fill="#26a69a"/>
<line x1="10.75" y1="76.30" x2="10.75" y2="94.00" stroke="#ef5350" stroke-width="0.9"/>
<rect x="9.75" y="84.90" width="2.0" height="7.90" fill="#ef5350"/>
<line x1="13.11" y1="85.50" x2="13.11" y2="107.60" stroke="#ef5350" stroke-width="0.9"/>
<rect x="12.11" y="92.80" width="2.0" height="6.90" fill="#ef5350"/>
<line x1="15.46" y1="93.10" x2="15.46" y2="99.70" stroke="#26a69a" stroke-width="0.9"/>
<rect x="14.46" y="95.10" width="2.0" height="4.60" fill="#26a69a"/>
<line x1="17.81" y1="93.10" x2="17.81" y2="99.70" stroke="#ef5350" stroke-width="0.9"/>
<rect x="16.81" y="95.10" width="2.0" height="4.60" fill="#ef5350"/>
<line x1="20.16" y1="99.00" x2="20.16" y2="99.80" stroke="#ef5350" stroke-width="0.9"/>
<rect x="19.16" y="98.90" width="2.0" height="1.00" fill="#ef5350"/>
<line x1="22.51" y1="93.10" x2="22.51" y2="99.70" stroke="#26a69a" stroke-width="0.9"/>
<rect x="21.51" y="98.70" width="2.0" height="1.00" fill="#26a69a"/>
<line x1="24.87" y1="90.20" x2="24.87" y2="98.70" stroke="#26a69a" stroke-width="0.9"/>
<rect x="23.87" y="93.10" width="2.0" height="5.60" fill="#26a69a"/>
<line x1="27.22" y1="90.20" x2="27.22" y2="96.70" stroke="#26a69a" stroke-width="0.9"/>
<rect x="26.22" y="94.50" width="2.0" height="2.20" fill="#26a69a"/>
<line x1="29.57" y1="87.20" x2="29.57" y2="98.40" stroke="#ef5350" stroke-width="0.9"/>
<rect x="28.57" y="94.80" width="2.0" height="3.60" fill="#ef5350"/>
<line x1="31.92" y1="85.20" x2="31.92" y2="98.70" stroke="#26a69a" stroke-width="0.9"/>
<rect x="30.92" y="97.00" width="2.0" height="1.70" fill="#26a69a"/>
<line x1="34.28" y1="93.10" x2="34.28" y2="99.00" stroke="#ef5350" stroke-width="0.9"/>
<rect x="33.28" y="97.40" width="2.0" height="1.60" fill="#ef5350"/>
<line x1="36.63" y1="86.20" x2="36.63" y2="108.60" stroke="#ef5350" stroke-width="0.9"/>
<rect x="35.63" y="99.00" width="2.0" height="1.00" fill="#ef5350"/>
<line x1="38.98" y1="90.20" x2="38.98" y2="107.60" stroke="#26a69a" stroke-width="0.9"/>
<rect x="37.98" y="97.10" width="2.0" height="2.90" fill="#26a69a"/>
<line x1="41.33" y1="94.10" x2="41.33" y2="108.60" stroke="#ef5350" stroke-width="0.9"/>
<rect x="40.33" y="99.00" width="2.0" height="1.70" fill="#ef5350"/>
<line x1="43.68" y1="98.00" x2="43.68" y2="104.00" stroke="#ef5350" stroke-width="0.9"/>
<rect x="42.68" y="103.15" width="2.0" height="1.00" fill="#ef5350"/>
<line x1="46.04" y1="103.00" x2="46.04" y2="103.70" stroke="#26a69a" stroke-width="0.9"/>
<rect x="45.04" y="102.85" width="2.0" height="1.00" fill="#26a69a"/>
<line x1="48.39" y1="100.70" x2="48.39" y2="103.70" stroke="#26a69a" stroke-width="0.9"/>
<rect x="47.39" y="102.85" width="2.0" height="1.00" fill="#26a69a"/>
<line x1="50.74" y1="96.40" x2="50.74" y2="162.00" stroke="#ef5350" stroke-width="0.9"/>
<rect x="49.74" y="103.00" width="2.0" height="47.00" fill="#ef5350"/>
<line x1="53.09" y1="126.20" x2="53.09" y2="161.80" stroke="#ef5350" stroke-width="0.9"/>
<rect x="52.09" y="143.50" width="2.0" height="3.00" fill="#ef5350"/>
<line x1="55.44" y1="136.60" x2="55.44" y2="155.40" stroke="#ef5350" stroke-width="0.9"/>
<rect x="54.44" y="147.00" width="2.0" height="2.50" fill="#ef5350"/>
<line x1="57.80" y1="139.60" x2="57.80" y2="154.40" stroke="#26a69a" stroke-width="0.9"/>
<rect x="56.80" y="147.50" width="2.0" height="2.00" fill="#26a69a"/>
<line x1="60.15" y1="141.60" x2="60.15" y2="148.50" stroke="#26a69a" stroke-width="0.9"/>
<rect x="59.15" y="145.00" width="2.0" height="3.50" fill="#26a69a"/>
<line x1="62.50" y1="140.00" x2="62.50" y2="142.50" stroke="#26a69a" stroke-width="0.9"/>
<rect x="61.50" y="140.00" width="2.0" height="2.50" fill="#26a69a"/>
<line x1="64.85" y1="122.30" x2="64.85" y2="139.60" stroke="#26a69a" stroke-width="0.9"/>
<rect x="63.85" y="122.30" width="2.0" height="17.30" fill="#26a69a"/>
<line x1="67.20" y1="111.40" x2="67.20" y2="126.20" stroke="#ef5350" stroke-width="0.9"/>
<rect x="66.20" y="122.30" width="2.0" height="3.90" fill="#ef5350"/>
<line x1="69.56" y1="126.70" x2="69.56" y2="148.00" stroke="#ef5350" stroke-width="0.9"/>
<rect x="68.56" y="126.70" width="2.0" height="13.90" fill="#ef5350"/>
<line x1="71.91" y1="128.70" x2="71.91" y2="140.60" stroke="#26a69a" stroke-width="0.9"/>
<rect x="70.91" y="139.10" width="2.0" height="1.50" fill="#26a69a"/>
<line x1="74.26" y1="128.20" x2="74.26" y2="140.60" stroke="#26a69a" stroke-width="0.9"/>
<rect x="73.26" y="137.10" width="2.0" height="3.50" fill="#26a69a"/>
<line x1="76.61" y1="137.10" x2="76.61" y2="148.50" stroke="#ef5350" stroke-width="0.9"/>
<rect x="75.61" y="137.10" width="2.0" height="8.40" fill="#ef5350"/>
<line x1="78.97" y1="137.10" x2="78.97" y2="155.40" stroke="#26a69a" stroke-width="0.9"/>
<rect x="77.97" y="137.10" width="2.0" height="8.90" fill="#26a69a"/>
<line x1="81.32" y1="117.80" x2="81.32" y2="143.50" stroke="#ef5350" stroke-width="0.9"/>
<rect x="80.32" y="134.60" width="2.0" height="1.00" fill="#ef5350"/>
<line x1="83.67" y1="111.90" x2="83.67" y2="132.70" stroke="#ef5350" stroke-width="0.9"/>
<rect x="82.67" y="124.30" width="2.0" height="8.40" fill="#ef5350"/>
<line x1="86.02" y1="126.20" x2="86.02" y2="152.40" stroke="#ef5350" stroke-width="0.9"/>
<rect x="85.02" y="133.20" width="2.0" height="13.80" fill="#ef5350"/>
<line x1="88.37" y1="141.60" x2="88.37" y2="157.40" stroke="#ef5350" stroke-width="0.9"/>
<rect x="87.37" y="146.85" width="2.0" height="1.00" fill="#ef5350"/>
<line x1="90.73" y1="130.20" x2="90.73" y2="150.50" stroke="#26a69a" stroke-width="0.9"/>
<rect x="89.73" y="144.75" width="2.0" height="1.00" fill="#26a69a"/>
<line x1="93.08" y1="142.00" x2="93.08" y2="150.00" stroke="#26a69a" stroke-width="0.9"/>
<rect x="92.08" y="142.00" width="2.0" height="4.00" fill="#26a69a"/>
<line x1="95.43" y1="142.00" x2="95.43" y2="145.50" stroke="#26a69a" stroke-width="0.9"/>
<rect x="94.43" y="142.00" width="2.0" height="3.50" fill="#26a69a"/>
<line x1="97.78" y1="144.50" x2="97.78" y2="155.40" stroke="#ef5350" stroke-width="0.9"/>
<rect x="96.78" y="144.50" width="2.0" height="6.00" fill="#ef5350"/>
<line x1="100.13" y1="146.00" x2="100.13" y2="181.60" stroke="#ef5350" stroke-width="0.9"/>
<rect x="99.13" y="148.00" width="2.0" height="2.00" fill="#ef5350"/>
<line x1="102.49" y1="147.30" x2="102.49" y2="176.70" stroke="#26a69a" stroke-width="0.9"/>
<rect x="101.49" y="147.30" width="2.0" height="10.20" fill="#26a69a"/>
<line x1="104.84" y1="144.00" x2="104.84" y2="145.50" stroke="#ef5350" stroke-width="0.9"/>
<rect x="103.84" y="144.10" width="2.0" height="1.00" fill="#ef5350"/>
<line x1="107.19" y1="145.20" x2="107.19" y2="169.80" stroke="#ef5350" stroke-width="0.9"/>
<rect x="106.19" y="145.20" width="2.0" height="9.60" fill="#ef5350"/>
<line x1="109.54" y1="132.60" x2="109.54" y2="145.20" stroke="#26a69a" stroke-width="0.9"/>
<rect x="108.54" y="135.00" width="2.0" height="10.20" fill="#26a69a"/>
<line x1="111.89" y1="130.20" x2="111.89" y2="170.30" stroke="#ef5350" stroke-width="0.9"/>
<rect x="110.89" y="137.10" width="2.0" height="12.30" fill="#ef5350"/>
<line x1="114.25" y1="148.40" x2="114.25" y2="168.20" stroke="#ef5350" stroke-width="0.9"/>
<rect x="113.25" y="148.40" width="2.0" height="4.30" fill="#ef5350"/>
<line x1="116.60" y1="144.70" x2="116.60" y2="152.70" stroke="#26a69a" stroke-width="0.9"/>
<rect x="115.60" y="145.70" width="2.0" height="7.00" fill="#26a69a"/>
<line x1="118.95" y1="136.60" x2="118.95" y2="146.20" stroke="#26a69a" stroke-width="0.9"/>
<rect x="117.95" y="145.20" width="2.0" height="1.00" fill="#26a69a"/>
<line x1="121.30" y1="140.30" x2="121.30" y2="146.20" stroke="#ef5350" stroke-width="0.9"/>
<rect x="120.30" y="140.30" width="2.0" height="5.90" fill="#ef5350"/>
<line x1="123.66" y1="145.30" x2="123.66" y2="146.10" stroke="#ef5350" stroke-width="0.9"/>
<rect x="122.66" y="145.20" width="2.0" height="1.00" fill="#ef5350"/>
<line x1="126.01" y1="145.70" x2="126.01" y2="146.50" stroke="#ef5350" stroke-width="0.9"/>
<rect x="125.01" y="145.60" width="2.0" height="1.00" fill="#ef5350"/>
<line x1="128.36" y1="145.80" x2="128.36" y2="146.50" stroke="#26a69a" stroke-width="0.9"/>
<rect x="127.36" y="145.65" width="2.0" height="1.00" fill="#26a69a"/>
<line x1="130.71" y1="137.10" x2="130.71" y2="146.20" stroke="#26a69a" stroke-width="0.9"/>
<rect x="129.71" y="143.00" width="2.0" height="3.20" fill="#26a69a"/>
<line x1="133.06" y1="142.50" x2="133.06" y2="143.60" stroke="#ef5350" stroke-width="0.9"/>
<rect x="132.06" y="142.50" width="2.0" height="1.10" fill="#ef5350"/>
<line x1="135.42" y1="142.50" x2="135.42" y2="145.70" stroke="#26a69a" stroke-width="0.9"/>
<rect x="134.42" y="142.50" width="2.0" height="3.20" fill="#26a69a"/>
<line x1="137.77" y1="141.40" x2="137.77" y2="144.50" stroke="#26a69a" stroke-width="0.9"/>
<rect x="136.77" y="143.65" width="2.0" height="1.00" fill="#26a69a"/>
<line x1="140.12" y1="137.10" x2="140.12" y2="144.00" stroke="#26a69a" stroke-width="0.9"/>
<rect x="139.12" y="143.00" width="2.0" height="1.00" fill="#26a69a"/>
<line x1="142.47" y1="143.00" x2="142.47" y2="144.60" stroke="#ef5350" stroke-width="0.9"/>
<rect x="141.47" y="143.30" width="2.0" height="1.10" fill="#ef5350"/>
<line x1="144.82" y1="138.70" x2="144.82" y2="143.00" stroke="#26a69a" stroke-width="0.9"/>
<rect x="143.82" y="142.00" width="2.0" height="1.00" fill="#26a69a"/>
<line x1="147.18" y1="129.70" x2="147.18" y2="141.90" stroke="#26a69a" stroke-width="0.9"/>
<rect x="146.18" y="131.90" width="2.0" height="10.00" fill="#26a69a"/>
<line x1="149.53" y1="126.00" x2="149.53" y2="135.00" stroke="#ef5350" stroke-width="0.9"/>
<rect x="148.53" y="132.40" width="2.0" height="1.30" fill="#ef5350"/>
<line x1="151.88" y1="131.50" x2="151.88" y2="141.00" stroke="#ef5350" stroke-width="0.9"/>
<rect x="150.88" y="131.50" width="2.0" height="9.50" fill="#ef5350"/>
<line x1="154.23" y1="123.80" x2="154.23" y2="142.80" stroke="#26a69a" stroke-width="0.9"/>
<rect x="153.23" y="133.70" width="2.0" height="5.90" fill="#26a69a"/>
<line x1="156.58" y1="121.00" x2="156.58" y2="137.40" stroke="#26a69a" stroke-width="0.9"/>
<rect x="155.58" y="126.50" width="2.0" height="2.30" fill="#26a69a"/>
<line x1="158.94" y1="121.00" x2="158.94" y2="127.40" stroke="#26a69a" stroke-width="0.9"/>
<rect x="157.94" y="125.60" width="2.0" height="1.80" fill="#26a69a"/>
<line x1="161.29" y1="124.50" x2="161.29" y2="125.80" stroke="#26a69a" stroke-width="0.9"/>
<rect x="160.29" y="124.65" width="2.0" height="1.00" fill="#26a69a"/>
<line x1="163.64" y1="124.00" x2="163.64" y2="124.90" stroke="#ef5350" stroke-width="0.9"/>
<rect x="162.64" y="123.95" width="2.0" height="1.00" fill="#ef5350"/>
<line x1="165.99" y1="124.70" x2="165.99" y2="137.80" stroke="#ef5350" stroke-width="0.9"/>
<rect x="164.99" y="124.70" width="2.0" height="13.10" fill="#ef5350"/>
<line x1="168.34" y1="138.00" x2="168.34" y2="138.60" stroke="#ef5350" stroke-width="0.9"/>
<rect x="167.34" y="137.80" width="2.0" height="1.00" fill="#ef5350"/>
<line x1="170.70" y1="134.60" x2="170.70" y2="138.70" stroke="#26a69a" stroke-width="0.9"/>
<rect x="169.70" y="134.60" width="2.0" height="4.10" fill="#26a69a"/>
<line x1="173.05" y1="134.20" x2="173.05" y2="136.50" stroke="#26a69a" stroke-width="0.9"/>
<rect x="172.05" y="134.20" width="2.0" height="2.30" fill="#26a69a"/>
<line x1="175.40" y1="135.10" x2="175.40" y2="155.90" stroke="#ef5350" stroke-width="0.9"/>
<rect x="174.40" y="135.10" width="2.0" height="20.80" fill="#ef5350"/>
<line x1="177.75" y1="135.60" x2="177.75" y2="153.20" stroke="#26a69a" stroke-width="0.9"/>
<rect x="176.75" y="145.10" width="2.0" height="3.60" fill="#26a69a"/>
<line x1="180.11" y1="146.90" x2="180.11" y2="150.50" stroke="#ef5350" stroke-width="0.9"/>
<rect x="179.11" y="146.90" width="2.0" height="3.60" fill="#ef5350"/>
<line x1="182.46" y1="149.10" x2="182.46" y2="156.40" stroke="#ef5350" stroke-width="0.9"/>
<rect x="181.46" y="151.40" width="2.0" height="3.20" fill="#ef5350"/>
<line x1="184.81" y1="137.80" x2="184.81" y2="153.20" stroke="#26a69a" stroke-width="0.9"/>
<rect x="183.81" y="137.80" width="2.0" height="15.40" fill="#26a69a"/>
<line x1="187.16" y1="137.40" x2="187.16" y2="159.10" stroke="#ef5350" stroke-width="0.9"/>
<rect x="186.16" y="137.40" width="2.0" height="15.40" fill="#ef5350"/>
<line x1="189.51" y1="144.20" x2="189.51" y2="152.30" stroke="#26a69a" stroke-width="0.9"/>
<rect x="188.51" y="149.10" width="2.0" height="3.20" fill="#26a69a"/>
<line x1="191.87" y1="150.50" x2="191.87" y2="151.90" stroke="#ef5350" stroke-width="0.9"/>
<rect x="190.87" y="150.50" width="2.0" height="1.40" fill="#ef5350"/>
<line x1="194.22" y1="148.10" x2="194.22" y2="156.30" stroke="#ef5350" stroke-width="0.9"/>
<rect x="193.22" y="150.90" width="2.0" height="3.80" fill="#ef5350"/>
<line x1="196.57" y1="154.00" x2="196.57" y2="156.30" stroke="#26a69a" stroke-width="0.9"/>
<rect x="195.57" y="153.75" width="2.0" height="1.00" fill="#26a69a"/>
<line x1="198.92" y1="154.20" x2="198.92" y2="155.10" stroke="#ef5350" stroke-width="0.9"/>
<rect x="197.92" y="154.15" width="2.0" height="1.00" fill="#ef5350"/>
<line x1="201.27" y1="154.00" x2="201.27" y2="154.50" stroke="#26a69a" stroke-width="0.9"/>
<rect x="200.27" y="153.75" width="2.0" height="1.00" fill="#26a69a"/>
<line x1="203.63" y1="153.50" x2="203.63" y2="154.20" stroke="#26a69a" stroke-width="0.9"/>
<rect x="202.63" y="153.35" width="2.0" height="1.00" fill="#26a69a"/>
<line x1="205.98" y1="150.50" x2="205.98" y2="152.40" stroke="#ef5350" stroke-width="0.9"/>
<rect x="204.98" y="151.30" width="2.0" height="1.00" fill="#ef5350"/>
<line x1="208.33" y1="153.30" x2="208.33" y2="163.70" stroke="#ef5350" stroke-width="0.9"/>
<rect x="207.33" y="153.30" width="2.0" height="3.20" fill="#ef5350"/>
<line x1="210.68" y1="156.30" x2="210.68" y2="160.00" stroke="#26a69a" stroke-width="0.9"/>
<rect x="209.68" y="157.45" width="2.0" height="1.00" fill="#26a69a"/>
<line x1="213.03" y1="159.20" x2="213.03" y2="165.40" stroke="#ef5350" stroke-width="0.9"/>
<rect x="212.03" y="159.20" width="2.0" height="4.50" fill="#ef5350"/>
<line x1="215.39" y1="144.40" x2="215.39" y2="165.80" stroke="#26a69a" stroke-width="0.9"/>
<rect x="214.39" y="144.40" width="2.0" height="19.30" fill="#26a69a"/>
<line x1="217.74" y1="139.80" x2="217.74" y2="155.90" stroke="#ef5350" stroke-width="0.9"/>
<rect x="216.74" y="140.20" width="2.0" height="15.70" fill="#ef5350"/>
<line x1="220.09" y1="155.50" x2="220.09" y2="165.00" stroke="#ef5350" stroke-width="0.9"/>
<rect x="219.09" y="155.50" width="2.0" height="7.00" fill="#ef5350"/>
<line x1="222.44" y1="157.50" x2="222.44" y2="160.40" stroke="#26a69a" stroke-width="0.9"/>
<rect x="221.44" y="157.50" width="2.0" height="2.90" fill="#26a69a"/>
<line x1="224.80" y1="148.50" x2="224.80" y2="158.40" stroke="#26a69a" stroke-width="0.9"/>
<rect x="223.80" y="157.65" width="2.0" height="1.00" fill="#26a69a"/>
<line x1="227.15" y1="158.40" x2="227.15" y2="163.70" stroke="#ef5350" stroke-width="0.9"/>
<rect x="226.15" y="158.40" width="2.0" height="5.30" fill="#ef5350"/>
<line x1="229.50" y1="164.30" x2="229.50" y2="165.60" stroke="#ef5350" stroke-width="0.9"/>
<rect x="228.50" y="164.45" width="2.0" height="1.00" fill="#ef5350"/>
<line x1="231.85" y1="155.90" x2="231.85" y2="165.40" stroke="#26a69a" stroke-width="0.9"/>
<rect x="230.85" y="155.90" width="2.0" height="9.50" fill="#26a69a"/>
<line x1="234.20" y1="153.80" x2="234.20" y2="165.00" stroke="#ef5350" stroke-width="0.9"/>
<rect x="233.20" y="153.80" width="2.0" height="11.20" fill="#ef5350"/>
<line x1="236.56" y1="160.40" x2="236.56" y2="165.40" stroke="#ef5350" stroke-width="0.9"/>
<rect x="235.56" y="163.50" width="2.0" height="1.70" fill="#ef5350"/>
<line x1="238.91" y1="164.80" x2="238.91" y2="165.50" stroke="#ef5350" stroke-width="0.9"/>
<rect x="237.91" y="164.65" width="2.0" height="1.00" fill="#ef5350"/>
<line x1="241.26" y1="163.20" x2="241.26" y2="164.70" stroke="#26a69a" stroke-width="0.9"/>
<rect x="240.26" y="163.40" width="2.0" height="1.10" fill="#26a69a"/>
<line x1="243.61" y1="163.20" x2="243.61" y2="165.70" stroke="#ef5350" stroke-width="0.9"/>
<rect x="242.61" y="163.40" width="2.0" height="2.10" fill="#ef5350"/>
<line x1="245.96" y1="164.80" x2="245.96" y2="166.00" stroke="#26a69a" stroke-width="0.9"/>
<rect x="244.96" y="164.90" width="2.0" height="1.00" fill="#26a69a"/>
<line x1="248.32" y1="160.20" x2="248.32" y2="168.70" stroke="#26a69a" stroke-width="0.9"/>
<rect x="247.32" y="164.65" width="2.0" height="1.00" fill="#26a69a"/>
<line x1="250.67" y1="164.70" x2="250.67" y2="165.50" stroke="#ef5350" stroke-width="0.9"/>
<rect x="249.67" y="164.60" width="2.0" height="1.00" fill="#ef5350"/>
<line x1="253.02" y1="160.20" x2="253.02" y2="164.50" stroke="#26a69a" stroke-width="0.9"/>
<rect x="252.02" y="160.70" width="2.0" height="3.80" fill="#26a69a"/>
<line x1="255.37" y1="163.20" x2="255.37" y2="164.00" stroke="#26a69a" stroke-width="0.9"/>
<rect x="254.37" y="163.15" width="2.0" height="1.00" fill="#26a69a"/>
<line x1="257.72" y1="163.20" x2="257.72" y2="164.40" stroke="#ef5350" stroke-width="0.9"/>
<rect x="256.72" y="163.30" width="2.0" height="1.00" fill="#ef5350"/>
<line x1="260.08" y1="161.50" x2="260.08" y2="165.00" stroke="#26a69a" stroke-width="0.9"/>
<rect x="259.08" y="161.80" width="2.0" height="3.20" fill="#26a69a"/>
<line x1="262.43" y1="159.40" x2="262.43" y2="160.90" stroke="#26a69a" stroke-width="0.9"/>
<rect x="261.43" y="159.60" width="2.0" height="1.10" fill="#26a69a"/>
<line x1="264.78" y1="159.50" x2="264.78" y2="194.40" stroke="#ef5350" stroke-width="0.9"/>
<rect x="263.78" y="160.20" width="2.0" height="28.30" fill="#ef5350"/>
<line x1="267.13" y1="188.50" x2="267.13" y2="207.80" stroke="#ef5350" stroke-width="0.9"/>
<rect x="266.13" y="190.70" width="2.0" height="17.10" fill="#ef5350"/>
<line x1="269.49" y1="203.00" x2="269.49" y2="210.00" stroke="#26a69a" stroke-width="0.9"/>
<rect x="268.49" y="203.00" width="2.0" height="4.80" fill="#26a69a"/>
<line x1="271.84" y1="199.30" x2="271.84" y2="208.90" stroke="#ef5350" stroke-width="0.9"/>
<rect x="270.84" y="202.50" width="2.0" height="3.20" fill="#ef5350"/>
<line x1="274.19" y1="204.40" x2="274.19" y2="205.90" stroke="#26a69a" stroke-width="0.9"/>
<rect x="273.19" y="204.60" width="2.0" height="1.10" fill="#26a69a"/>
<line x1="276.54" y1="196.60" x2="276.54" y2="205.10" stroke="#26a69a" stroke-width="0.9"/>
<rect x="275.54" y="196.60" width="2.0" height="8.50" fill="#26a69a"/>
<line x1="278.89" y1="180.00" x2="278.89" y2="196.60" stroke="#26a69a" stroke-width="0.9"/>
<rect x="277.89" y="181.00" width="2.0" height="15.60" fill="#26a69a"/>
<line x1="281.25" y1="180.50" x2="281.25" y2="188.50" stroke="#ef5350" stroke-width="0.9"/>
<rect x="280.25" y="180.50" width="2.0" height="8.00" fill="#ef5350"/>
<line x1="283.60" y1="189.00" x2="283.60" y2="209.10" stroke="#ef5350" stroke-width="0.9"/>
<rect x="282.60" y="189.00" width="2.0" height="5.10" fill="#ef5350"/>
<line x1="285.95" y1="182.60" x2="285.95" y2="209.10" stroke="#ef5350" stroke-width="0.9"/>
<rect x="284.95" y="193.00" width="2.0" height="4.60" fill="#ef5350"/>
<line x1="288.30" y1="198.20" x2="288.30" y2="209.10" stroke="#ef5350" stroke-width="0.9"/>
<rect x="287.30" y="198.20" width="2.0" height="4.60" fill="#ef5350"/>
<line x1="290.65" y1="203.00" x2="290.65" y2="205.80" stroke="#ef5350" stroke-width="0.9"/>
<rect x="289.65" y="203.30" width="2.0" height="2.30" fill="#ef5350"/>
<line x1="293.01" y1="203.70" x2="293.01" y2="209.10" stroke="#26a69a" stroke-width="0.9"/>
<rect x="292.01" y="203.90" width="2.0" height="1.70" fill="#26a69a"/>
<line x1="295.36" y1="204.30" x2="295.36" y2="206.40" stroke="#ef5350" stroke-width="0.9"/>
<rect x="294.36" y="204.50" width="2.0" height="1.70" fill="#ef5350"/>
<line x1="297.71" y1="205.60" x2="297.71" y2="215.40" stroke="#ef5350" stroke-width="0.9"/>
<rect x="296.71" y="209.10" width="2.0" height="6.30" fill="#ef5350"/>
<line x1="300.06" y1="215.40" x2="300.06" y2="241.40" stroke="#ef5350" stroke-width="0.9"/>
<rect x="299.06" y="215.40" width="2.0" height="22.50" fill="#ef5350"/>
<line x1="302.41" y1="220.00" x2="302.41" y2="237.90" stroke="#26a69a" stroke-width="0.9"/>
<rect x="301.41" y="225.20" width="2.0" height="12.70" fill="#26a69a"/>
<line x1="304.77" y1="220.00" x2="304.77" y2="238.50" stroke="#26a69a" stroke-width="0.9"/>
<rect x="303.77" y="225.20" width="2.0" height="2.30" fill="#26a69a"/>
<line x1="307.12" y1="225.20" x2="307.12" y2="233.30" stroke="#ef5350" stroke-width="0.9"/>
<rect x="306.12" y="228.70" width="2.0" height="4.60" fill="#ef5350"/>
<line x1="309.47" y1="228.70" x2="309.47" y2="235.60" stroke="#26a69a" stroke-width="0.9"/>
<rect x="308.47" y="233.30" width="2.0" height="1.70" fill="#26a69a"/>
<line x1="311.82" y1="233.10" x2="311.82" y2="235.20" stroke="#ef5350" stroke-width="0.9"/>
<rect x="310.82" y="233.30" width="2.0" height="1.70" fill="#ef5350"/>
<line x1="314.18" y1="220.60" x2="314.18" y2="237.90" stroke="#26a69a" stroke-width="0.9"/>
<rect x="313.18" y="231.00" width="2.0" height="3.50" fill="#26a69a"/>
<line x1="316.53" y1="221.80" x2="316.53" y2="231.00" stroke="#26a69a" stroke-width="0.9"/>
<rect x="315.53" y="221.80" width="2.0" height="9.20" fill="#26a69a"/>
<line x1="318.88" y1="222.40" x2="318.88" y2="236.80" stroke="#ef5350" stroke-width="0.9"/>
<rect x="317.88" y="222.40" width="2.0" height="6.90" fill="#ef5350"/>
<line x1="321.23" y1="224.10" x2="321.23" y2="232.10" stroke="#26a69a" stroke-width="0.9"/>
<rect x="320.23" y="224.10" width="2.0" height="5.20" fill="#26a69a"/>
<line x1="323.58" y1="222.20" x2="323.58" y2="224.30" stroke="#ef5350" stroke-width="0.9"/>
<rect x="322.58" y="222.40" width="2.0" height="1.70" fill="#ef5350"/>
<line x1="325.94" y1="220.00" x2="325.94" y2="221.80" stroke="#26a69a" stroke-width="0.9"/>
<rect x="324.94" y="220.00" width="2.0" height="1.80" fill="#26a69a"/>
<line x1="328.29" y1="219.90" x2="328.29" y2="221.10" stroke="#26a69a" stroke-width="0.9"/>
<rect x="327.29" y="220.00" width="2.0" height="1.00" fill="#26a69a"/>
<line x1="330.64" y1="220.10" x2="330.64" y2="220.70" stroke="#ef5350" stroke-width="0.9"/>
<rect x="329.64" y="219.90" width="2.0" height="1.00" fill="#ef5350"/>
<line x1="332.99" y1="219.80" x2="332.99" y2="223.50" stroke="#ef5350" stroke-width="0.9"/>
<rect x="331.99" y="220.00" width="2.0" height="3.50" fill="#ef5350"/>
<line x1="335.34" y1="225.00" x2="335.34" y2="232.40" stroke="#ef5350" stroke-width="0.9"/>
<rect x="334.34" y="225.20" width="2.0" height="7.00" fill="#ef5350"/>
<line x1="337.70" y1="223.10" x2="337.70" y2="232.60" stroke="#26a69a" stroke-width="0.9"/>
<rect x="336.70" y="223.10" width="2.0" height="9.50" fill="#26a69a"/>
<line x1="340.05" y1="217.40" x2="340.05" y2="231.40" stroke="#ef5350" stroke-width="0.9"/>
<rect x="339.05" y="224.10" width="2.0" height="1.00" fill="#ef5350"/>
<line x1="342.40" y1="226.20" x2="342.40" y2="227.30" stroke="#26a69a" stroke-width="0.9"/>
<rect x="341.40" y="226.25" width="2.0" height="1.00" fill="#26a69a"/>
<line x1="344.75" y1="225.40" x2="344.75" y2="226.50" stroke="#26a69a" stroke-width="0.9"/>
<rect x="343.75" y="225.45" width="2.0" height="1.00" fill="#26a69a"/>
<line x1="347.10" y1="226.10" x2="347.10" y2="229.10" stroke="#ef5350" stroke-width="0.9"/>
<rect x="346.10" y="226.30" width="2.0" height="2.60" fill="#ef5350"/>
<line x1="349.46" y1="228.70" x2="349.46" y2="229.70" stroke="#ef5350" stroke-width="0.9"/>
<rect x="348.46" y="228.70" width="2.0" height="1.00" fill="#ef5350"/>
<line x1="351.81" y1="222.30" x2="351.81" y2="228.90" stroke="#26a69a" stroke-width="0.9"/>
<rect x="350.81" y="222.30" width="2.0" height="6.60" fill="#26a69a"/>
<line x1="354.16" y1="221.70" x2="354.16" y2="222.70" stroke="#26a69a" stroke-width="0.9"/>
<rect x="353.16" y="221.70" width="2.0" height="1.00" fill="#26a69a"/>
<line x1="356.51" y1="221.70" x2="356.51" y2="222.30" stroke="#ef5350" stroke-width="0.9"/>
<rect x="355.51" y="221.50" width="2.0" height="1.00" fill="#ef5350"/>
<line x1="358.87" y1="221.30" x2="358.87" y2="222.50" stroke="#ef5350" stroke-width="0.9"/>
<rect x="357.87" y="221.40" width="2.0" height="1.00" fill="#ef5350"/>
<line x1="361.22" y1="221.70" x2="361.22" y2="222.50" stroke="#26a69a" stroke-width="0.9"/>
<rect x="360.22" y="221.60" width="2.0" height="1.00" fill="#26a69a"/>
<line x1="363.57" y1="221.80" x2="363.57" y2="222.40" stroke="#ef5350" stroke-width="0.9"/>
<rect x="362.57" y="221.60" width="2.0" height="1.00" fill="#ef5350"/>
<line x1="365.92" y1="212.80" x2="365.92" y2="232.20" stroke="#26a69a" stroke-width="0.9"/>
<rect x="364.92" y="222.00" width="2.0" height="1.00" fill="#26a69a"/>
<line x1="368.27" y1="223.80" x2="368.27" y2="226.60" stroke="#ef5350" stroke-width="0.9"/>
<rect x="367.27" y="224.00" width="2.0" height="2.40" fill="#ef5350"/>
<line x1="370.63" y1="225.80" x2="370.63" y2="238.80" stroke="#26a69a" stroke-width="0.9"/>
<rect x="369.63" y="225.80" width="2.0" height="1.00" fill="#26a69a"/>
<line x1="372.98" y1="224.60" x2="372.98" y2="225.60" stroke="#26a69a" stroke-width="0.9"/>
<rect x="371.98" y="224.60" width="2.0" height="1.00" fill="#26a69a"/>
<line x1="375.33" y1="224.20" x2="375.33" y2="240.00" stroke="#ef5350" stroke-width="0.9"/>
<rect x="374.33" y="224.40" width="2.0" height="5.30" fill="#ef5350"/>
<line x1="377.68" y1="228.30" x2="377.68" y2="229.50" stroke="#26a69a" stroke-width="0.9"/>
<rect x="376.68" y="228.40" width="2.0" height="1.00" fill="#26a69a"/>
<line x1="380.03" y1="226.20" x2="380.03" y2="228.70" stroke="#26a69a" stroke-width="0.9"/>
<rect x="379.03" y="226.40" width="2.0" height="2.10" fill="#26a69a"/>
<line x1="382.39" y1="221.90" x2="382.39" y2="237.10" stroke="#ef5350" stroke-width="0.9"/>
<rect x="381.39" y="226.80" width="2.0" height="7.00" fill="#ef5350"/>
<line x1="384.74" y1="237.70" x2="384.74" y2="244.70" stroke="#ef5350" stroke-width="0.9"/>
<rect x="383.74" y="237.90" width="2.0" height="6.60" fill="#ef5350"/>
<line x1="387.09" y1="242.80" x2="387.09" y2="243.70" stroke="#ef5350" stroke-width="0.9"/>
<rect x="386.09" y="242.75" width="2.0" height="1.00" fill="#ef5350"/>
<line x1="389.44" y1="242.70" x2="389.44" y2="243.90" stroke="#26a69a" stroke-width="0.9"/>
<rect x="388.44" y="242.80" width="2.0" height="1.00" fill="#26a69a"/>
<line x1="391.79" y1="243.10" x2="391.79" y2="252.00" stroke="#ef5350" stroke-width="0.9"/>
<rect x="390.79" y="243.30" width="2.0" height="6.60" fill="#ef5350"/>
<line x1="394.15" y1="219.80" x2="394.15" y2="260.20" stroke="#26a69a" stroke-width="0.9"/>
<rect x="393.15" y="235.50" width="2.0" height="15.20" fill="#26a69a"/>
<line x1="396.50" y1="234.90" x2="396.50" y2="247.80" stroke="#ef5350" stroke-width="0.9"/>
<rect x="395.50" y="235.10" width="2.0" height="7.80" fill="#ef5350"/>
<line x1="398.85" y1="242.30" x2="398.85" y2="243.50" stroke="#ef5350" stroke-width="0.9"/>
<rect x="397.85" y="242.40" width="2.0" height="1.00" fill="#ef5350"/>
<line x1="401.20" y1="240.20" x2="401.20" y2="243.90" stroke="#26a69a" stroke-width="0.9"/>
<rect x="400.20" y="240.40" width="2.0" height="3.30" fill="#26a69a"/>
<line x1="403.55" y1="223.90" x2="403.55" y2="242.30" stroke="#26a69a" stroke-width="0.9"/>
<rect x="402.55" y="240.40" width="2.0" height="1.70" fill="#26a69a"/>
<line x1="405.91" y1="240.60" x2="405.91" y2="241.70" stroke="#26a69a" stroke-width="0.9"/>
<rect x="404.91" y="240.65" width="2.0" height="1.00" fill="#26a69a"/>
<line x1="408.26" y1="232.40" x2="408.26" y2="240.60" stroke="#26a69a" stroke-width="0.9"/>
<rect x="407.26" y="232.60" width="2.0" height="7.80" fill="#26a69a"/>
<line x1="410.61" y1="232.80" x2="410.61" y2="241.20" stroke="#ef5350" stroke-width="0.9"/>
<rect x="409.61" y="232.90" width="2.0" height="1.00" fill="#ef5350"/>
<line x1="412.96" y1="233.60" x2="412.96" y2="234.50" stroke="#26a69a" stroke-width="0.9"/>
<rect x="411.96" y="233.55" width="2.0" height="1.00" fill="#26a69a"/>
<line x1="415.32" y1="230.50" x2="415.32" y2="234.60" stroke="#26a69a" stroke-width="0.9"/>
<rect x="414.32" y="233.60" width="2.0" height="1.00" fill="#26a69a"/>
<line x1="417.67" y1="234.90" x2="417.67" y2="238.10" stroke="#ef5350" stroke-width="0.9"/>
<rect x="416.67" y="235.10" width="2.0" height="2.80" fill="#ef5350"/>
<line x1="420.02" y1="233.20" x2="420.02" y2="237.70" stroke="#26a69a" stroke-width="0.9"/>
<rect x="419.02" y="233.40" width="2.0" height="4.10" fill="#26a69a"/>
<line x1="422.37" y1="233.60" x2="422.37" y2="235.30" stroke="#ef5350" stroke-width="0.9"/>
<rect x="421.37" y="233.80" width="2.0" height="1.30" fill="#ef5350"/>
<line x1="424.72" y1="234.30" x2="424.72" y2="239.00" stroke="#ef5350" stroke-width="0.9"/>
<rect x="423.72" y="234.50" width="2.0" height="2.00" fill="#ef5350"/>
<line x1="427.08" y1="233.20" x2="427.08" y2="243.10" stroke="#ef5350" stroke-width="0.9"/>
<rect x="426.08" y="233.40" width="2.0" height="9.50" fill="#ef5350"/>
<line x1="429.43" y1="242.70" x2="429.43" y2="245.60" stroke="#ef5350" stroke-width="0.9"/>
<rect x="428.43" y="242.90" width="2.0" height="2.50" fill="#ef5350"/>
<line x1="431.78" y1="243.10" x2="431.78" y2="244.30" stroke="#26a69a" stroke-width="0.9"/>
<rect x="430.78" y="243.20" width="2.0" height="1.00" fill="#26a69a"/>
<line x1="434.13" y1="241.90" x2="434.13" y2="244.30" stroke="#26a69a" stroke-width="0.9"/>
<rect x="433.13" y="242.10" width="2.0" height="2.00" fill="#26a69a"/>
<line x1="436.48" y1="241.00" x2="436.48" y2="241.90" stroke="#ef5350" stroke-width="0.9"/>
<rect x="435.48" y="240.95" width="2.0" height="1.00" fill="#ef5350"/>
<line x1="438.84" y1="241.10" x2="438.84" y2="242.00" stroke="#26a69a" stroke-width="0.9"/>
<rect x="437.84" y="241.05" width="2.0" height="1.00" fill="#26a69a"/>
<line x1="441.19" y1="241.10" x2="441.19" y2="242.00" stroke="#ef5350" stroke-width="0.9"/>
<rect x="440.19" y="241.05" width="2.0" height="1.00" fill="#ef5350"/>
<line x1="443.54" y1="241.00" x2="443.54" y2="242.00" stroke="#26a69a" stroke-width="0.9"/>
<rect x="442.54" y="241.00" width="2.0" height="1.00" fill="#26a69a"/>
<line x1="445.89" y1="234.20" x2="445.89" y2="241.40" stroke="#26a69a" stroke-width="0.9"/>
<rect x="444.89" y="240.00" width="2.0" height="1.20" fill="#26a69a"/>
<line x1="448.24" y1="238.20" x2="448.24" y2="239.40" stroke="#26a69a" stroke-width="0.9"/>
<rect x="447.24" y="238.30" width="2.0" height="1.00" fill="#26a69a"/>
<line x1="450.60" y1="236.10" x2="450.60" y2="237.70" stroke="#26a69a" stroke-width="0.9"/>
<rect x="449.60" y="236.30" width="2.0" height="1.20" fill="#26a69a"/>
<line x1="452.95" y1="234.90" x2="452.95" y2="236.90" stroke="#ef5350" stroke-width="0.9"/>
<rect x="451.95" y="235.10" width="2.0" height="1.60" fill="#ef5350"/>
<line x1="455.30" y1="236.10" x2="455.30" y2="239.00" stroke="#ef5350" stroke-width="0.9"/>
<rect x="454.30" y="236.30" width="2.0" height="2.50" fill="#ef5350"/>
<line x1="457.65" y1="236.50" x2="457.65" y2="242.00" stroke="#ef5350" stroke-width="0.9"/>
<rect x="456.65" y="236.70" width="2.0" height="3.70" fill="#ef5350"/>
<line x1="460.01" y1="240.20" x2="460.01" y2="241.40" stroke="#26a69a" stroke-width="0.9"/>
<rect x="459.01" y="240.30" width="2.0" height="1.00" fill="#26a69a"/>
<line x1="462.36" y1="234.50" x2="462.36" y2="240.60" stroke="#26a69a" stroke-width="0.9"/>
<rect x="461.36" y="234.70" width="2.0" height="5.70" fill="#26a69a"/>
<line x1="464.71" y1="235.30" x2="464.71" y2="241.60" stroke="#26a69a" stroke-width="0.9"/>
<rect x="463.71" y="235.50" width="2.0" height="2.90" fill="#26a69a"/>
<line x1="467.06" y1="234.90" x2="467.06" y2="236.10" stroke="#ef5350" stroke-width="0.9"/>
<rect x="466.06" y="235.00" width="2.0" height="1.00" fill="#ef5350"/>
<line x1="469.41" y1="234.50" x2="469.41" y2="235.40" stroke="#26a69a" stroke-width="0.9"/>
<rect x="468.41" y="234.45" width="2.0" height="1.00" fill="#26a69a"/>
<line x1="471.77" y1="234.40" x2="471.77" y2="235.20" stroke="#26a69a" stroke-width="0.9"/>
<rect x="470.77" y="234.30" width="2.0" height="1.00" fill="#26a69a"/>
<line x1="474.12" y1="234.10" x2="474.12" y2="234.80" stroke="#26a69a" stroke-width="0.9"/>
<rect x="473.12" y="233.95" width="2.0" height="1.00" fill="#26a69a"/>
<line x1="476.47" y1="233.90" x2="476.47" y2="234.50" stroke="#ef5350" stroke-width="0.9"/>
<rect x="475.47" y="233.70" width="2.0" height="1.00" fill="#ef5350"/>
<line x1="478.82" y1="233.90" x2="478.82" y2="234.50" stroke="#26a69a" stroke-width="0.9"/>
<rect x="477.82" y="233.70" width="2.0" height="1.00" fill="#26a69a"/>
<line x1="481.17" y1="233.90" x2="481.17" y2="234.50" stroke="#ef5350" stroke-width="0.9"/>
<rect x="480.17" y="233.70" width="2.0" height="1.00" fill="#ef5350"/>
<line x1="483.53" y1="233.90" x2="483.53" y2="234.50" stroke="#26a69a" stroke-width="0.9"/>
<rect x="482.53" y="233.70" width="2.0" height="1.00" fill="#26a69a"/>
<line x1="485.88" y1="233.90" x2="485.88" y2="234.50" stroke="#ef5350" stroke-width="0.9"/>
<rect x="484.88" y="233.70" width="2.0" height="1.00" fill="#ef5350"/>
<line x1="488.23" y1="233.90" x2="488.23" y2="234.50" stroke="#26a69a" stroke-width="0.9"/>
<rect x="487.23" y="233.70" width="2.0" height="1.00" fill="#26a69a"/>
<line x1="490.58" y1="233.90" x2="490.58" y2="234.50" stroke="#ef5350" stroke-width="0.9"/>
<rect x="489.58" y="233.70" width="2.0" height="1.00" fill="#ef5350"/>
<line x1="492.93" y1="234.20" x2="492.93" y2="243.30" stroke="#ef5350" stroke-width="0.9"/>
<rect x="491.93" y="234.20" width="2.0" height="5.80" fill="#ef5350"/>
<line x1="495.29" y1="228.10" x2="495.29" y2="240.40" stroke="#26a69a" stroke-width="0.9"/>
<rect x="494.29" y="228.10" width="2.0" height="12.30" fill="#26a69a"/>
<line x1="497.64" y1="223.10" x2="497.64" y2="226.80" stroke="#26a69a" stroke-width="0.9"/>
<rect x="496.64" y="224.80" width="2.0" height="2.00" fill="#26a69a"/>
<line x1="499.99" y1="225.20" x2="499.99" y2="243.30" stroke="#ef5350" stroke-width="0.9"/>
<rect x="498.99" y="225.20" width="2.0" height="15.20" fill="#ef5350"/>
<line x1="502.34" y1="236.10" x2="502.34" y2="240.40" stroke="#26a69a" stroke-width="0.9"/>
<rect x="501.34" y="236.30" width="2.0" height="2.50" fill="#26a69a"/>
<line x1="504.70" y1="235.30" x2="504.70" y2="236.50" stroke="#26a69a" stroke-width="0.9"/>
<rect x="503.70" y="235.40" width="2.0" height="1.00" fill="#26a69a"/>
<line x1="507.05" y1="224.20" x2="507.05" y2="236.50" stroke="#26a69a" stroke-width="0.9"/>
<rect x="506.05" y="224.40" width="2.0" height="11.90" fill="#26a69a"/>
<line x1="509.40" y1="223.80" x2="509.40" y2="224.60" stroke="#26a69a" stroke-width="0.9"/>
<rect x="508.40" y="223.70" width="2.0" height="1.00" fill="#26a69a"/>
<line x1="511.75" y1="224.20" x2="511.75" y2="233.00" stroke="#ef5350" stroke-width="0.9"/>
<rect x="510.75" y="224.30" width="2.0" height="1.00" fill="#ef5350"/>
<line x1="514.10" y1="225.20" x2="514.10" y2="226.00" stroke="#ef5350" stroke-width="0.9"/>
<rect x="513.10" y="225.10" width="2.0" height="1.00" fill="#ef5350"/>
<line x1="516.46" y1="226.00" x2="516.46" y2="242.90" stroke="#ef5350" stroke-width="0.9"/>
<rect x="515.46" y="226.00" width="2.0" height="7.00" fill="#ef5350"/>
<line x1="518.81" y1="225.70" x2="518.81" y2="233.10" stroke="#26a69a" stroke-width="0.9"/>
<rect x="517.81" y="225.90" width="2.0" height="7.00" fill="#26a69a"/>
<line x1="521.16" y1="220.10" x2="521.16" y2="231.00" stroke="#ef5350" stroke-width="0.9"/>
<rect x="520.16" y="227.10" width="2.0" height="3.70" fill="#ef5350"/>
<line x1="523.51" y1="228.00" x2="523.51" y2="233.70" stroke="#26a69a" stroke-width="0.9"/>
<rect x="522.51" y="230.65" width="2.0" height="1.00" fill="#26a69a"/>
<line x1="525.86" y1="226.10" x2="525.86" y2="230.60" stroke="#26a69a" stroke-width="0.9"/>
<rect x="524.86" y="226.30" width="2.0" height="4.10" fill="#26a69a"/>
<line x1="528.22" y1="225.70" x2="528.22" y2="229.80" stroke="#26a69a" stroke-width="0.9"/>
<rect x="527.22" y="225.90" width="2.0" height="3.70" fill="#26a69a"/>
<line x1="530.57" y1="219.90" x2="530.57" y2="227.70" stroke="#26a69a" stroke-width="0.9"/>
<rect x="529.57" y="220.10" width="2.0" height="7.40" fill="#26a69a"/>
<line x1="532.92" y1="219.90" x2="532.92" y2="222.40" stroke="#ef5350" stroke-width="0.9"/>
<rect x="531.92" y="220.10" width="2.0" height="2.10" fill="#ef5350"/>
<line x1="535.27" y1="221.60" x2="535.27" y2="222.40" stroke="#ef5350" stroke-width="0.9"/>
<rect x="534.27" y="221.50" width="2.0" height="1.00" fill="#ef5350"/>
<line x1="537.62" y1="221.80" x2="537.62" y2="222.60" stroke="#ef5350" stroke-width="0.9"/>
<rect x="536.62" y="221.70" width="2.0" height="1.00" fill="#ef5350"/>
<line x1="539.98" y1="221.80" x2="539.98" y2="222.60" stroke="#26a69a" stroke-width="0.9"/>
<rect x="538.98" y="221.70" width="2.0" height="1.00" fill="#26a69a"/>
<line x1="542.33" y1="221.60" x2="542.33" y2="222.40" stroke="#26a69a" stroke-width="0.9"/>
<rect x="541.33" y="221.50" width="2.0" height="1.00" fill="#26a69a"/>
<line x1="544.68" y1="220.30" x2="544.68" y2="222.40" stroke="#26a69a" stroke-width="0.9"/>
<rect x="543.68" y="220.50" width="2.0" height="1.70" fill="#26a69a"/>
<line x1="547.03" y1="220.10" x2="547.03" y2="220.70" stroke="#ef5350" stroke-width="0.9"/>
<rect x="546.03" y="219.90" width="2.0" height="1.00" fill="#ef5350"/>
<line x1="549.39" y1="219.70" x2="549.39" y2="220.50" stroke="#26a69a" stroke-width="0.9"/>
<rect x="548.39" y="219.60" width="2.0" height="1.00" fill="#26a69a"/>
<line x1="551.74" y1="218.70" x2="551.74" y2="219.90" stroke="#26a69a" stroke-width="0.9"/>
<rect x="550.74" y="218.80" width="2.0" height="1.00" fill="#26a69a"/>
<line x1="554.09" y1="137.00" x2="554.09" y2="219.10" stroke="#26a69a" stroke-width="0.9"/>
<rect x="553.09" y="208.20" width="2.0" height="10.70" fill="#26a69a"/>
<line x1="556.44" y1="210.00" x2="556.44" y2="230.40" stroke="#ef5350" stroke-width="0.9"/>
<rect x="555.44" y="210.20" width="2.0" height="16.50" fill="#ef5350"/>
<line x1="558.79" y1="220.60" x2="558.79" y2="228.00" stroke="#26a69a" stroke-width="0.9"/>
<rect x="557.79" y="222.20" width="2.0" height="4.10" fill="#26a69a"/>
<line x1="561.15" y1="216.40" x2="561.15" y2="222.00" stroke="#26a69a" stroke-width="0.9"/>
<rect x="560.15" y="220.90" width="2.0" height="1.00" fill="#26a69a"/>
<line x1="563.50" y1="206.70" x2="563.50" y2="221.20" stroke="#26a69a" stroke-width="0.9"/>
<rect x="562.50" y="206.90" width="2.0" height="14.10" fill="#26a69a"/>
<line x1="565.85" y1="206.70" x2="565.85" y2="218.30" stroke="#ef5350" stroke-width="0.9"/>
<rect x="564.85" y="206.90" width="2.0" height="11.20" fill="#ef5350"/>
<line x1="568.20" y1="219.60" x2="568.20" y2="230.90" stroke="#ef5350" stroke-width="0.9"/>
<rect x="567.20" y="219.70" width="2.0" height="1.00" fill="#ef5350"/>
<line x1="570.55" y1="220.80" x2="570.55" y2="222.40" stroke="#26a69a" stroke-width="0.9"/>
<rect x="569.55" y="221.00" width="2.0" height="1.20" fill="#26a69a"/>
<line x1="572.91" y1="221.00" x2="572.91" y2="222.00" stroke="#26a69a" stroke-width="0.9"/>
<rect x="571.91" y="221.00" width="2.0" height="1.00" fill="#26a69a"/>
<line x1="575.26" y1="221.20" x2="575.26" y2="222.90" stroke="#ef5350" stroke-width="0.9"/>
<rect x="574.26" y="221.40" width="2.0" height="1.30" fill="#ef5350"/>
<line x1="577.61" y1="221.60" x2="577.61" y2="223.30" stroke="#26a69a" stroke-width="0.9"/>
<rect x="576.61" y="221.80" width="2.0" height="1.30" fill="#26a69a"/>
<line x1="579.96" y1="220.80" x2="579.96" y2="231.30" stroke="#26a69a" stroke-width="0.9"/>
<rect x="578.96" y="221.00" width="2.0" height="1.70" fill="#26a69a"/>
<line x1="582.31" y1="217.50" x2="582.31" y2="241.60" stroke="#ef5350" stroke-width="0.9"/>
<rect x="581.31" y="217.70" width="2.0" height="6.60" fill="#ef5350"/>
<line x1="584.67" y1="225.30" x2="584.67" y2="238.30" stroke="#ef5350" stroke-width="0.9"/>
<rect x="583.67" y="225.50" width="2.0" height="10.30" fill="#ef5350"/>
<line x1="587.02" y1="235.20" x2="587.02" y2="237.30" stroke="#ef5350" stroke-width="0.9"/>
<rect x="586.02" y="235.40" width="2.0" height="1.70" fill="#ef5350"/>
<line x1="589.37" y1="236.50" x2="589.37" y2="240.20" stroke="#ef5350" stroke-width="0.9"/>
<rect x="588.37" y="236.70" width="2.0" height="3.30" fill="#ef5350"/>
<line x1="591.72" y1="238.10" x2="591.72" y2="240.60" stroke="#26a69a" stroke-width="0.9"/>
<rect x="590.72" y="238.30" width="2.0" height="2.10" fill="#26a69a"/>
<line x1="594.07" y1="234.00" x2="594.07" y2="238.50" stroke="#26a69a" stroke-width="0.9"/>
<rect x="593.07" y="234.20" width="2.0" height="4.10" fill="#26a69a"/>
<line x1="596.43" y1="231.50" x2="596.43" y2="238.50" stroke="#ef5350" stroke-width="0.9"/>
<rect x="595.43" y="231.70" width="2.0" height="6.60" fill="#ef5350"/>
<line x1="598.78" y1="239.30" x2="598.78" y2="241.00" stroke="#ef5350" stroke-width="0.9"/>
<rect x="597.78" y="239.50" width="2.0" height="1.30" fill="#ef5350"/>
<line x1="601.13" y1="234.00" x2="601.13" y2="239.70" stroke="#26a69a" stroke-width="0.9"/>
<rect x="600.13" y="234.20" width="2.0" height="5.30" fill="#26a69a"/>
<line x1="603.48" y1="236.00" x2="603.48" y2="238.50" stroke="#ef5350" stroke-width="0.9"/>
<rect x="602.48" y="236.20" width="2.0" height="2.10" fill="#ef5350"/>
<line x1="605.84" y1="237.90" x2="605.84" y2="238.70" stroke="#26a69a" stroke-width="0.9"/>
<rect x="604.84" y="237.80" width="2.0" height="1.00" fill="#26a69a"/>
<line x1="608.19" y1="238.10" x2="608.19" y2="238.90" stroke="#ef5350" stroke-width="0.9"/>
<rect x="607.19" y="238.00" width="2.0" height="1.00" fill="#ef5350"/>
<line x1="610.54" y1="233.40" x2="610.54" y2="238.90" stroke="#26a69a" stroke-width="0.9"/>
<rect x="609.54" y="237.90" width="2.0" height="1.00" fill="#26a69a"/>
<line x1="612.89" y1="237.90" x2="612.89" y2="238.80" stroke="#ef5350" stroke-width="0.9"/>
<rect x="611.89" y="237.85" width="2.0" height="1.00" fill="#ef5350"/>
<line x1="615.24" y1="237.00" x2="615.24" y2="238.20" stroke="#26a69a" stroke-width="0.9"/>
<rect x="614.24" y="237.10" width="2.0" height="1.00" fill="#26a69a"/>
<line x1="617.60" y1="237.30" x2="617.60" y2="239.70" stroke="#ef5350" stroke-width="0.9"/>
<rect x="616.60" y="237.50" width="2.0" height="2.00" fill="#ef5350"/>
<line x1="619.95" y1="238.00" x2="619.95" y2="238.80" stroke="#26a69a" stroke-width="0.9"/>
<rect x="618.95" y="237.90" width="2.0" height="1.00" fill="#26a69a"/>
<line x1="622.30" y1="238.00" x2="622.30" y2="239.00" stroke="#26a69a" stroke-width="0.9"/>
<rect x="621.30" y="238.00" width="2.0" height="1.00" fill="#26a69a"/>
<line x1="624.65" y1="235.40" x2="624.65" y2="245.70" stroke="#ef5350" stroke-width="0.9"/>
<rect x="623.65" y="239.50" width="2.0" height="1.30" fill="#ef5350"/>
<line x1="627.00" y1="239.80" x2="627.00" y2="241.00" stroke="#ef5350" stroke-width="0.9"/>
<rect x="626.00" y="239.90" width="2.0" height="1.00" fill="#ef5350"/>
<line x1="629.36" y1="240.40" x2="629.36" y2="242.40" stroke="#26a69a" stroke-width="0.9"/>
<rect x="628.36" y="240.40" width="2.0" height="1.00" fill="#26a69a"/>
<line x1="631.71" y1="233.60" x2="631.71" y2="240.60" stroke="#26a69a" stroke-width="0.9"/>
<rect x="630.71" y="233.80" width="2.0" height="6.60" fill="#26a69a"/>
<line x1="634.06" y1="231.50" x2="634.06" y2="233.60" stroke="#26a69a" stroke-width="0.9"/>
<rect x="633.06" y="231.70" width="2.0" height="1.70" fill="#26a69a"/>
<line x1="636.41" y1="225.30" x2="636.41" y2="232.30" stroke="#26a69a" stroke-width="0.9"/>
<rect x="635.41" y="225.50" width="2.0" height="6.60" fill="#26a69a"/>
<line x1="638.76" y1="210.30" x2="638.76" y2="242.80" stroke="#ef5350" stroke-width="0.9"/>
<rect x="637.76" y="225.50" width="2.0" height="2.90" fill="#ef5350"/>
<line x1="641.12" y1="228.60" x2="641.12" y2="233.20" stroke="#ef5350" stroke-width="0.9"/>
<rect x="640.12" y="228.80" width="2.0" height="4.20" fill="#ef5350"/>
<line x1="643.47" y1="227.80" x2="643.47" y2="233.20" stroke="#26a69a" stroke-width="0.9"/>
<rect x="642.47" y="228.00" width="2.0" height="5.00" fill="#26a69a"/>
<line x1="645.82" y1="227.80" x2="645.82" y2="228.60" stroke="#26a69a" stroke-width="0.9"/>
<rect x="644.82" y="227.70" width="2.0" height="1.00" fill="#26a69a"/>
<line x1="648.17" y1="227.00" x2="648.17" y2="227.80" stroke="#26a69a" stroke-width="0.9"/>
<rect x="647.17" y="226.90" width="2.0" height="1.00" fill="#26a69a"/>
<line x1="650.53" y1="226.70" x2="650.53" y2="227.30" stroke="#ef5350" stroke-width="0.9"/>
<rect x="649.53" y="226.50" width="2.0" height="1.00" fill="#ef5350"/>
<line x1="652.88" y1="226.20" x2="652.88" y2="227.80" stroke="#ef5350" stroke-width="0.9"/>
<rect x="651.88" y="226.40" width="2.0" height="1.20" fill="#ef5350"/>
<line x1="655.23" y1="228.20" x2="655.23" y2="232.50" stroke="#ef5350" stroke-width="0.9"/>
<rect x="654.23" y="228.40" width="2.0" height="1.70" fill="#ef5350"/>
<line x1="657.58" y1="227.40" x2="657.58" y2="231.90" stroke="#26a69a" stroke-width="0.9"/>
<rect x="656.58" y="227.60" width="2.0" height="4.10" fill="#26a69a"/>
<line x1="659.93" y1="225.80" x2="659.93" y2="227.40" stroke="#26a69a" stroke-width="0.9"/>
<rect x="658.93" y="226.00" width="2.0" height="1.20" fill="#26a69a"/>
<line x1="662.29" y1="224.30" x2="662.29" y2="225.70" stroke="#26a69a" stroke-width="0.9"/>
<rect x="661.29" y="224.50" width="2.0" height="1.00" fill="#26a69a"/>
<line x1="664.64" y1="225.00" x2="664.64" y2="233.20" stroke="#ef5350" stroke-width="0.9"/>
<rect x="663.64" y="225.20" width="2.0" height="7.80" fill="#ef5350"/>
<line x1="666.99" y1="233.20" x2="666.99" y2="237.70" stroke="#ef5350" stroke-width="0.9"/>
<rect x="665.99" y="233.40" width="2.0" height="4.10" fill="#ef5350"/>
<line x1="669.34" y1="233.20" x2="669.34" y2="236.50" stroke="#26a69a" stroke-width="0.9"/>
<rect x="668.34" y="233.40" width="2.0" height="2.90" fill="#26a69a"/>
<line x1="671.69" y1="233.20" x2="671.69" y2="234.00" stroke="#ef5350" stroke-width="0.9"/>
<rect x="670.69" y="233.10" width="2.0" height="1.00" fill="#ef5350"/>
<line x1="674.05" y1="233.20" x2="674.05" y2="234.00" stroke="#26a69a" stroke-width="0.9"/>
<rect x="673.05" y="233.10" width="2.0" height="1.00" fill="#26a69a"/>
<line x1="676.40" y1="233.40" x2="676.40" y2="234.20" stroke="#ef5350" stroke-width="0.9"/>
<rect x="675.40" y="233.30" width="2.0" height="1.00" fill="#ef5350"/>
<line x1="678.75" y1="234.90" x2="678.75" y2="236.50" stroke="#ef5350" stroke-width="0.9"/>
<rect x="677.75" y="235.10" width="2.0" height="1.20" fill="#ef5350"/>
<line x1="681.10" y1="236.10" x2="681.10" y2="238.60" stroke="#ef5350" stroke-width="0.9"/>
<rect x="680.10" y="236.30" width="2.0" height="2.10" fill="#ef5350"/>
<line x1="683.45" y1="236.10" x2="683.45" y2="237.00" stroke="#26a69a" stroke-width="0.9"/>
<rect x="682.45" y="236.05" width="2.0" height="1.00" fill="#26a69a"/>
<line x1="685.81" y1="236.50" x2="685.81" y2="239.60" stroke="#ef5350" stroke-width="0.9"/>
<rect x="684.81" y="236.60" width="2.0" height="1.00" fill="#ef5350"/>
<line x1="688.16" y1="236.50" x2="688.16" y2="237.30" stroke="#ef5350" stroke-width="0.9"/>
<rect x="687.16" y="236.40" width="2.0" height="1.00" fill="#ef5350"/>
<line x1="690.51" y1="236.70" x2="690.51" y2="237.30" stroke="#26a69a" stroke-width="0.9"/>
<rect x="689.51" y="236.50" width="2.0" height="1.00" fill="#26a69a"/>
<line x1="692.86" y1="236.10" x2="692.86" y2="237.70" stroke="#26a69a" stroke-width="0.9"/>
<rect x="691.86" y="236.30" width="2.0" height="1.20" fill="#26a69a"/>
<line x1="695.22" y1="233.20" x2="695.22" y2="236.90" stroke="#26a69a" stroke-width="0.9"/>
<rect x="694.22" y="233.40" width="2.0" height="3.30" fill="#26a69a"/>
<line x1="697.57" y1="230.80" x2="697.57" y2="233.60" stroke="#26a69a" stroke-width="0.9"/>
<rect x="696.57" y="231.00" width="2.0" height="2.40" fill="#26a69a"/>
<line x1="699.92" y1="226.00" x2="699.92" y2="231.60" stroke="#26a69a" stroke-width="0.9"/>
<rect x="698.92" y="229.30" width="2.0" height="2.10" fill="#26a69a"/>
<line x1="702.27" y1="227.30" x2="702.27" y2="234.40" stroke="#ef5350" stroke-width="0.9"/>
<rect x="701.27" y="229.30" width="2.0" height="4.90" fill="#ef5350"/>
<line x1="704.62" y1="234.90" x2="704.62" y2="240.60" stroke="#ef5350" stroke-width="0.9"/>
<rect x="703.62" y="235.10" width="2.0" height="5.30" fill="#ef5350"/>
<line x1="706.98" y1="239.00" x2="706.98" y2="240.20" stroke="#26a69a" stroke-width="0.9"/>
<rect x="705.98" y="239.10" width="2.0" height="1.00" fill="#26a69a"/>
<line x1="709.33" y1="237.70" x2="709.33" y2="239.00" stroke="#26a69a" stroke-width="0.9"/>
<rect x="708.33" y="237.85" width="2.0" height="1.00" fill="#26a69a"/>
<line x1="711.68" y1="229.30" x2="711.68" y2="240.20" stroke="#26a69a" stroke-width="0.9"/>
<rect x="710.68" y="231.40" width="2.0" height="8.60" fill="#26a69a"/>
<line x1="714.03" y1="231.20" x2="714.03" y2="232.80" stroke="#ef5350" stroke-width="0.9"/>
<rect x="713.03" y="231.40" width="2.0" height="1.20" fill="#ef5350"/>
<line x1="716.38" y1="232.50" x2="716.38" y2="233.10" stroke="#ef5350" stroke-width="0.9"/>
<rect x="715.38" y="232.30" width="2.0" height="1.00" fill="#ef5350"/>
<line x1="718.74" y1="232.60" x2="718.74" y2="233.60" stroke="#26a69a" stroke-width="0.9"/>
<rect x="717.74" y="232.60" width="2.0" height="1.00" fill="#26a69a"/>
<line x1="721.09" y1="231.20" x2="721.09" y2="233.40" stroke="#ef5350" stroke-width="0.9"/>
<rect x="720.09" y="232.30" width="2.0" height="1.00" fill="#ef5350"/>
<line x1="723.44" y1="233.60" x2="723.44" y2="241.70" stroke="#ef5350" stroke-width="0.9"/>
<rect x="722.44" y="233.80" width="2.0" height="2.90" fill="#ef5350"/>
<line x1="725.79" y1="229.70" x2="725.79" y2="241.70" stroke="#26a69a" stroke-width="0.9"/>
<rect x="724.79" y="234.70" width="2.0" height="4.90" fill="#26a69a"/>
<line x1="728.14" y1="234.40" x2="728.14" y2="235.80" stroke="#26a69a" stroke-width="0.9"/>
<rect x="727.14" y="234.60" width="2.0" height="1.00" fill="#26a69a"/>
<line x1="730.50" y1="234.90" x2="730.50" y2="241.00" stroke="#ef5350" stroke-width="0.9"/>
<rect x="729.50" y="235.10" width="2.0" height="5.70" fill="#ef5350"/>
<line x1="732.85" y1="234.90" x2="732.85" y2="241.00" stroke="#26a69a" stroke-width="0.9"/>
<rect x="731.85" y="235.10" width="2.0" height="5.70" fill="#26a69a"/>
<line x1="735.20" y1="232.00" x2="735.20" y2="234.00" stroke="#26a69a" stroke-width="0.9"/>
<rect x="734.20" y="232.20" width="2.0" height="1.60" fill="#26a69a"/>
<line x1="737.55" y1="232.40" x2="737.55" y2="236.50" stroke="#ef5350" stroke-width="0.9"/>
<rect x="736.55" y="232.60" width="2.0" height="3.70" fill="#ef5350"/>
<line x1="739.91" y1="224.80" x2="739.91" y2="236.50" stroke="#26a69a" stroke-width="0.9"/>
<rect x="738.91" y="232.20" width="2.0" height="4.10" fill="#26a69a"/>
<line x1="742.26" y1="232.80" x2="742.26" y2="234.40" stroke="#ef5350" stroke-width="0.9"/>
<rect x="741.26" y="233.00" width="2.0" height="1.20" fill="#ef5350"/>
<line x1="744.61" y1="233.80" x2="744.61" y2="234.80" stroke="#ef5350" stroke-width="0.9"/>
<rect x="743.61" y="233.80" width="2.0" height="1.00" fill="#ef5350"/>
<line x1="746.96" y1="234.80" x2="746.96" y2="235.80" stroke="#26a69a" stroke-width="0.9"/>
<rect x="745.96" y="234.80" width="2.0" height="1.00" fill="#26a69a"/>
<line x1="749.31" y1="234.90" x2="749.31" y2="245.80" stroke="#ef5350" stroke-width="0.9"/>
<rect x="748.31" y="235.10" width="2.0" height="5.30" fill="#ef5350"/>
<line x1="751.67" y1="238.60" x2="751.67" y2="239.80" stroke="#26a69a" stroke-width="0.9"/>
<rect x="750.67" y="238.70" width="2.0" height="1.00" fill="#26a69a"/>
<line x1="754.02" y1="233.60" x2="754.02" y2="240.60" stroke="#26a69a" stroke-width="0.9"/>
<rect x="753.02" y="233.80" width="2.0" height="6.60" fill="#26a69a"/>
<line x1="756.37" y1="234.10" x2="756.37" y2="235.30" stroke="#ef5350" stroke-width="0.9"/>
<rect x="755.37" y="234.20" width="2.0" height="1.00" fill="#ef5350"/>
<line x1="758.72" y1="233.70" x2="758.72" y2="234.90" stroke="#26a69a" stroke-width="0.9"/>
<rect x="757.72" y="233.80" width="2.0" height="1.00" fill="#26a69a"/>
<line x1="761.07" y1="234.50" x2="761.07" y2="242.50" stroke="#ef5350" stroke-width="0.9"/>
<rect x="760.07" y="234.70" width="2.0" height="1.70" fill="#ef5350"/>
<line x1="763.43" y1="234.80" x2="763.43" y2="236.40" stroke="#ef5350" stroke-width="0.9"/>
<rect x="762.43" y="235.00" width="2.0" height="1.20" fill="#ef5350"/>
<line x1="765.78" y1="236.60" x2="765.78" y2="241.70" stroke="#26a69a" stroke-width="0.9"/>
<rect x="764.78" y="236.80" width="2.0" height="1.60" fill="#26a69a"/>
<line x1="768.13" y1="236.20" x2="768.13" y2="237.40" stroke="#26a69a" stroke-width="0.9"/>
<rect x="767.13" y="236.30" width="2.0" height="1.00" fill="#26a69a"/>
<line x1="770.48" y1="236.00" x2="770.48" y2="236.80" stroke="#26a69a" stroke-width="0.9"/>
<rect x="769.48" y="235.90" width="2.0" height="1.00" fill="#26a69a"/>
<line x1="772.83" y1="235.80" x2="772.83" y2="236.60" stroke="#26a69a" stroke-width="0.9"/>
<rect x="771.83" y="235.70" width="2.0" height="1.00" fill="#26a69a"/>
<line x1="775.19" y1="236.00" x2="775.19" y2="237.20" stroke="#ef5350" stroke-width="0.9"/>
<rect x="774.19" y="236.10" width="2.0" height="1.00" fill="#ef5350"/>
<line x1="777.54" y1="236.20" x2="777.54" y2="237.20" stroke="#ef5350" stroke-width="0.9"/>
<rect x="776.54" y="236.20" width="2.0" height="1.00" fill="#ef5350"/>
<line x1="779.89" y1="236.60" x2="779.89" y2="237.40" stroke="#26a69a" stroke-width="0.9"/>
<rect x="778.89" y="236.50" width="2.0" height="1.00" fill="#26a69a"/>
<line x1="782.24" y1="236.60" x2="782.24" y2="237.40" stroke="#26a69a" stroke-width="0.9"/>
<rect x="781.24" y="236.50" width="2.0" height="1.00" fill="#26a69a"/>
<line x1="784.60" y1="236.20" x2="784.60" y2="242.50" stroke="#ef5350" stroke-width="0.9"/>
<rect x="783.60" y="236.40" width="2.0" height="4.90" fill="#ef5350"/>
<line x1="786.95" y1="239.00" x2="786.95" y2="242.50" stroke="#26a69a" stroke-width="0.9"/>
<rect x="785.95" y="239.20" width="2.0" height="2.50" fill="#26a69a"/>
<line x1="789.30" y1="239.50" x2="789.30" y2="242.50" stroke="#ef5350" stroke-width="0.9"/>
<rect x="788.30" y="239.70" width="2.0" height="1.60" fill="#ef5350"/>
<line x1="791.65" y1="239.00" x2="791.65" y2="239.90" stroke="#26a69a" stroke-width="0.9"/>
<rect x="790.65" y="238.95" width="2.0" height="1.00" fill="#26a69a"/>
<line x1="794.00" y1="238.90" x2="794.00" y2="239.60" stroke="#26a69a" stroke-width="0.9"/>
<rect x="793.00" y="238.75" width="2.0" height="1.00" fill="#26a69a"/>
<line x1="796.36" y1="238.80" x2="796.36" y2="239.40" stroke="#ef5350" stroke-width="0.9"/>
<rect x="795.36" y="238.60" width="2.0" height="1.00" fill="#ef5350"/>
<line x1="798.71" y1="238.70" x2="798.71" y2="239.40" stroke="#26a69a" stroke-width="0.9"/>
<rect x="797.71" y="238.55" width="2.0" height="1.00" fill="#26a69a"/>
<line x1="801.06" y1="239.00" x2="801.06" y2="239.60" stroke="#ef5350" stroke-width="0.9"/>
<rect x="800.06" y="238.80" width="2.0" height="1.00" fill="#ef5350"/>
<line x1="803.41" y1="238.90" x2="803.41" y2="239.50" stroke="#26a69a" stroke-width="0.9"/>
<rect x="802.41" y="238.70" width="2.0" height="1.00" fill="#26a69a"/>
<line x1="805.76" y1="239.10" x2="805.76" y2="239.70" stroke="#26a69a" stroke-width="0.9"/>
<rect x="804.76" y="238.90" width="2.0" height="1.00" fill="#26a69a"/>
<line x1="808.12" y1="239.10" x2="808.12" y2="239.60" stroke="#26a69a" stroke-width="0.9"/>
<rect x="807.12" y="238.85" width="2.0" height="1.00" fill="#26a69a"/>
<line x1="810.47" y1="239.20" x2="810.47" y2="242.00" stroke="#ef5350" stroke-width="0.9"/>
<rect x="809.47" y="239.40" width="2.0" height="2.40" fill="#ef5350"/>
<line x1="812.82" y1="241.60" x2="812.82" y2="246.60" stroke="#ef5350" stroke-width="0.9"/>
<rect x="811.82" y="241.80" width="2.0" height="4.60" fill="#ef5350"/>
<line x1="815.17" y1="246.20" x2="815.17" y2="248.80" stroke="#26a69a" stroke-width="0.9"/>
<rect x="814.17" y="246.30" width="2.0" height="1.00" fill="#26a69a"/>
<line x1="817.52" y1="244.50" x2="817.52" y2="245.70" stroke="#26a69a" stroke-width="0.9"/>
<rect x="816.52" y="244.60" width="2.0" height="1.00" fill="#26a69a"/>
<line x1="819.88" y1="244.30" x2="819.88" y2="245.20" stroke="#26a69a" stroke-width="0.9"/>
<rect x="818.88" y="244.25" width="2.0" height="1.00" fill="#26a69a"/>
<line x1="822.23" y1="242.50" x2="822.23" y2="244.10" stroke="#26a69a" stroke-width="0.9"/>
<rect x="821.23" y="242.70" width="2.0" height="1.20" fill="#26a69a"/>
<line x1="824.58" y1="240.00" x2="824.58" y2="243.30" stroke="#26a69a" stroke-width="0.9"/>
<rect x="823.58" y="240.20" width="2.0" height="2.90" fill="#26a69a"/>
<line x1="826.93" y1="239.20" x2="826.93" y2="240.40" stroke="#ef5350" stroke-width="0.9"/>
<rect x="825.93" y="239.30" width="2.0" height="1.00" fill="#ef5350"/>
<line x1="829.28" y1="235.70" x2="829.28" y2="244.30" stroke="#26a69a" stroke-width="0.9"/>
<rect x="828.28" y="238.90" width="2.0" height="2.50" fill="#26a69a"/>
<line x1="831.64" y1="238.80" x2="831.64" y2="244.30" stroke="#ef5350" stroke-width="0.9"/>
<rect x="830.64" y="238.90" width="2.0" height="1.00" fill="#ef5350"/>
<line x1="833.99" y1="239.00" x2="833.99" y2="239.80" stroke="#26a69a" stroke-width="0.9"/>
<rect x="832.99" y="238.90" width="2.0" height="1.00" fill="#26a69a"/>
<line x1="836.34" y1="239.60" x2="836.34" y2="240.60" stroke="#ef5350" stroke-width="0.9"/>
<rect x="835.34" y="239.60" width="2.0" height="1.00" fill="#ef5350"/>
<line x1="838.69" y1="240.40" x2="838.69" y2="244.30" stroke="#ef5350" stroke-width="0.9"/>
<rect x="837.69" y="240.50" width="2.0" height="1.00" fill="#ef5350"/>
<line x1="841.05" y1="241.10" x2="841.05" y2="242.40" stroke="#26a69a" stroke-width="0.9"/>
<rect x="840.05" y="241.25" width="2.0" height="1.00" fill="#26a69a"/>
<line x1="843.40" y1="242.00" x2="843.40" y2="243.70" stroke="#ef5350" stroke-width="0.9"/>
<rect x="842.40" y="242.20" width="2.0" height="1.30" fill="#ef5350"/>
<line x1="845.75" y1="243.60" x2="845.75" y2="244.40" stroke="#ef5350" stroke-width="0.9"/>
<rect x="844.75" y="243.50" width="2.0" height="1.00" fill="#ef5350"/>
<line x1="848.10" y1="243.70" x2="848.10" y2="244.90" stroke="#ef5350" stroke-width="0.9"/>
<rect x="847.10" y="243.80" width="2.0" height="1.00" fill="#ef5350"/>
<line x1="850.45" y1="244.50" x2="850.45" y2="256.70" stroke="#ef5350" stroke-width="0.9"/>
<rect x="849.45" y="244.70" width="2.0" height="9.10" fill="#ef5350"/>
<line x1="852.81" y1="253.20" x2="852.81" y2="256.70" stroke="#26a69a" stroke-width="0.9"/>
<rect x="851.81" y="253.20" width="2.0" height="1.00" fill="#26a69a"/>
<line x1="855.16" y1="244.60" x2="855.16" y2="254.00" stroke="#26a69a" stroke-width="0.9"/>
<rect x="854.16" y="244.80" width="2.0" height="9.00" fill="#26a69a"/>
<line x1="857.51" y1="241.10" x2="857.51" y2="245.00" stroke="#26a69a" stroke-width="0.9"/>
<rect x="856.51" y="243.10" width="2.0" height="1.70" fill="#26a69a"/>
<line x1="859.86" y1="245.00" x2="859.86" y2="253.80" stroke="#ef5350" stroke-width="0.9"/>
<rect x="858.86" y="245.20" width="2.0" height="3.70" fill="#ef5350"/>
<line x1="862.21" y1="248.30" x2="862.21" y2="251.60" stroke="#ef5350" stroke-width="0.9"/>
<rect x="861.21" y="248.50" width="2.0" height="2.90" fill="#ef5350"/>
<line x1="864.57" y1="251.00" x2="864.57" y2="252.00" stroke="#ef5350" stroke-width="0.9"/>
<rect x="863.57" y="251.00" width="2.0" height="1.00" fill="#ef5350"/>
<line x1="866.92" y1="251.40" x2="866.92" y2="252.20" stroke="#26a69a" stroke-width="0.9"/>
<rect x="865.92" y="251.30" width="2.0" height="1.00" fill="#26a69a"/>
<line x1="869.27" y1="251.60" x2="869.27" y2="252.30" stroke="#ef5350" stroke-width="0.9"/>
<rect x="868.27" y="251.45" width="2.0" height="1.00" fill="#ef5350"/>
<line x1="871.62" y1="252.00" x2="871.62" y2="253.00" stroke="#26a69a" stroke-width="0.9"/>
<rect x="870.62" y="252.00" width="2.0" height="1.00" fill="#26a69a"/>
<line x1="873.97" y1="252.10" x2="873.97" y2="252.80" stroke="#26a69a" stroke-width="0.9"/>
<rect x="872.97" y="251.95" width="2.0" height="1.00" fill="#26a69a"/>
<line x1="876.33" y1="252.00" x2="876.33" y2="253.00" stroke="#ef5350" stroke-width="0.9"/>
<rect x="875.33" y="252.00" width="2.0" height="1.00" fill="#ef5350"/>
<line x1="878.68" y1="252.50" x2="878.68" y2="253.30" stroke="#26a69a" stroke-width="0.9"/>
<rect x="877.68" y="252.40" width="2.0" height="1.00" fill="#26a69a"/>
<line x1="881.03" y1="252.50" x2="881.03" y2="253.40" stroke="#ef5350" stroke-width="0.9"/>
<rect x="880.03" y="252.45" width="2.0" height="1.00" fill="#ef5350"/>
<line x1="883.38" y1="252.80" x2="883.38" y2="253.60" stroke="#26a69a" stroke-width="0.9"/>
<rect x="882.38" y="252.70" width="2.0" height="1.00" fill="#26a69a"/>
<line x1="885.74" y1="252.80" x2="885.74" y2="253.60" stroke="#26a69a" stroke-width="0.9"/>
<rect x="884.74" y="252.70" width="2.0" height="1.00" fill="#26a69a"/>
<line x1="888.09" y1="252.90" x2="888.09" y2="253.50" stroke="#26a69a" stroke-width="0.9"/>
<rect x="887.09" y="252.70" width="2.0" height="1.00" fill="#26a69a"/>
<line x1="890.44" y1="252.90" x2="890.44" y2="253.50" stroke="#26a69a" stroke-width="0.9"/>
<rect x="889.44" y="252.70" width="2.0" height="1.00" fill="#26a69a"/>
<line x1="892.79" y1="252.90" x2="892.79" y2="253.50" stroke="#26a69a" stroke-width="0.9"/>
<rect x="891.79" y="252.70" width="2.0" height="1.00" fill="#26a69a"/>
<line x1="895.14" y1="252.90" x2="895.14" y2="253.60" stroke="#ef5350" stroke-width="0.9"/>
<rect x="894.14" y="252.75" width="2.0" height="1.00" fill="#ef5350"/>
<line x1="897.50" y1="253.00" x2="897.50" y2="253.60" stroke="#ef5350" stroke-width="0.9"/>
<rect x="896.50" y="252.80" width="2.0" height="1.00" fill="#ef5350"/>
<line x1="899.85" y1="253.00" x2="899.85" y2="253.60" stroke="#ef5350" stroke-width="0.9"/>
<rect x="898.85" y="252.80" width="2.0" height="1.00" fill="#ef5350"/>
<line x1="902.20" y1="253.10" x2="902.20" y2="253.70" stroke="#ef5350" stroke-width="0.9"/>
<rect x="901.20" y="252.90" width="2.0" height="1.00" fill="#ef5350"/>
<line x1="904.55" y1="253.50" x2="904.55" y2="256.70" stroke="#ef5350" stroke-width="0.9"/>
<rect x="903.55" y="253.70" width="2.0" height="2.80" fill="#ef5350"/>
<line x1="906.90" y1="256.00" x2="906.90" y2="256.70" stroke="#26a69a" stroke-width="0.9"/>
<rect x="905.90" y="255.85" width="2.0" height="1.00" fill="#26a69a"/>
<line x1="909.26" y1="256.00" x2="909.26" y2="256.70" stroke="#ef5350" stroke-width="0.9"/>
<rect x="908.26" y="255.85" width="2.0" height="1.00" fill="#ef5350"/>
<line x1="911.61" y1="255.90" x2="911.61" y2="256.70" stroke="#26a69a" stroke-width="0.9"/>
<rect x="910.61" y="255.80" width="2.0" height="1.00" fill="#26a69a"/>
<line x1="913.96" y1="255.90" x2="913.96" y2="256.60" stroke="#ef5350" stroke-width="0.9"/>
<rect x="912.96" y="255.75" width="2.0" height="1.00" fill="#ef5350"/>
<line x1="916.31" y1="255.80" x2="916.31" y2="256.50" stroke="#26a69a" stroke-width="0.9"/>
<rect x="915.31" y="255.65" width="2.0" height="1.00" fill="#26a69a"/>
<line x1="918.66" y1="255.60" x2="918.66" y2="256.30" stroke="#26a69a" stroke-width="0.9"/>
<rect x="917.66" y="255.45" width="2.0" height="1.00" fill="#26a69a"/>
<line x1="921.02" y1="255.60" x2="921.02" y2="256.20" stroke="#ef5350" stroke-width="0.9"/>
<rect x="920.02" y="255.40" width="2.0" height="1.00" fill="#ef5350"/>
<line x1="923.37" y1="255.30" x2="923.37" y2="256.20" stroke="#26a69a" stroke-width="0.9"/>
<rect x="922.37" y="255.25" width="2.0" height="1.00" fill="#26a69a"/>
<line x1="925.72" y1="255.10" x2="925.72" y2="255.70" stroke="#26a69a" stroke-width="0.9"/>
<rect x="924.72" y="254.90" width="2.0" height="1.00" fill="#26a69a"/>
<line x1="928.07" y1="253.10" x2="928.07" y2="255.50" stroke="#26a69a" stroke-width="0.9"/>
<rect x="927.07" y="253.30" width="2.0" height="2.00" fill="#26a69a"/>
<line x1="930.43" y1="251.70" x2="930.43" y2="253.50" stroke="#26a69a" stroke-width="0.9"/>
<rect x="929.43" y="251.90" width="2.0" height="1.40" fill="#26a69a"/>
<line x1="932.78" y1="227.00" x2="932.78" y2="252.80" stroke="#26a69a" stroke-width="0.9"/>
<rect x="931.78" y="251.20" width="2.0" height="1.40" fill="#26a69a"/>
<line x1="935.13" y1="223.50" x2="935.13" y2="259.70" stroke="#ef5350" stroke-width="0.9"/>
<rect x="934.13" y="251.20" width="2.0" height="8.30" fill="#ef5350"/>
<line x1="937.48" y1="259.30" x2="937.48" y2="291.30" stroke="#ef5350" stroke-width="0.9"/>
<rect x="936.48" y="259.50" width="2.0" height="27.70" fill="#ef5350"/>
<line x1="939.83" y1="269.20" x2="939.83" y2="297.50" stroke="#26a69a" stroke-width="0.9"/>
<rect x="938.83" y="283.00" width="2.0" height="2.80" fill="#26a69a"/>
<line x1="942.19" y1="282.10" x2="942.19" y2="292.70" stroke="#26a69a" stroke-width="0.9"/>
<rect x="941.19" y="282.30" width="2.0" height="3.50" fill="#26a69a"/>
<line x1="944.54" y1="281.40" x2="944.54" y2="284.60" stroke="#26a69a" stroke-width="0.9"/>
<rect x="943.54" y="281.60" width="2.0" height="2.80" fill="#26a69a"/>
<line x1="946.89" y1="277.20" x2="946.89" y2="279.80" stroke="#26a69a" stroke-width="0.9"/>
<rect x="945.89" y="277.40" width="2.0" height="1.30" fill="#26a69a"/>
<line x1="5.5" y1="277.5" x2="922" y2="277.5" stroke="#26a69a" stroke-opacity="0.55" stroke-width="1" stroke-dasharray="2,1"/>
</g>
<g clip-path="url(#cr)">
<line x1="8.5" y1="387" x2="8.5" y2="572.5" stroke="#f4f5f7" stroke-width="1"/>
<line x1="55.5" y1="387" x2="55.5" y2="572.5" stroke="#f4f5f7" stroke-width="1"/>
<line x1="111.5" y1="387" x2="111.5" y2="572.5" stroke="#f4f5f7" stroke-width="1"/>
<line x1="168.5" y1="387" x2="168.5" y2="572.5" stroke="#f4f5f7" stroke-width="1"/>
<line x1="224.5" y1="387" x2="224.5" y2="572.5" stroke="#f4f5f7" stroke-width="1"/>
<line x1="281.5" y1="387" x2="281.5" y2="572.5" stroke="#f4f5f7" stroke-width="1"/>
<line x1="338" y1="387" x2="338" y2="572.5" stroke="#f4f5f7" stroke-width="1"/>
<line x1="394" y1="387" x2="394" y2="572.5" stroke="#f4f5f7" stroke-width="1"/>
<line x1="450.5" y1="387" x2="450.5" y2="572.5" stroke="#f4f5f7" stroke-width="1"/>
<line x1="507" y1="387" x2="507" y2="572.5" stroke="#f4f5f7" stroke-width="1"/>
<line x1="563" y1="387" x2="563" y2="572.5" stroke="#f4f5f7" stroke-width="1"/>
<line x1="619.5" y1="387" x2="619.5" y2="572.5" stroke="#f4f5f7" stroke-width="1"/>
<line x1="676" y1="387" x2="676" y2="572.5" stroke="#f4f5f7" stroke-width="1"/>
<line x1="732.5" y1="387" x2="732.5" y2="572.5" stroke="#f4f5f7" stroke-width="1"/>
<line x1="788.5" y1="387" x2="788.5" y2="572.5" stroke="#f4f5f7" stroke-width="1"/>
<line x1="845.5" y1="387" x2="845.5" y2="572.5" stroke="#f4f5f7" stroke-width="1"/>
<line x1="901.5" y1="387" x2="901.5" y2="572.5" stroke="#f4f5f7" stroke-width="1"/>
<line x1="958.5" y1="387" x2="958.5" y2="572.5" stroke="#f4f5f7" stroke-width="1"/>
<rect x="5.5" y="405.4" width="967" height="116.6" fill="#f2eef9"/>
<line x1="5.5" y1="434.6" x2="972.5" y2="434.6" stroke="#f4f5f7" stroke-width="1"/>
<line x1="5.5" y1="492.9" x2="972.5" y2="492.9" stroke="#f4f5f7" stroke-width="1"/>
<line x1="5.5" y1="551.2" x2="972.5" y2="551.2" stroke="#f4f5f7" stroke-width="1"/>
<line x1="5.5" y1="405.4" x2="972.5" y2="405.4" stroke="#9fa2ab" stroke-width="1" stroke-dasharray="3,2.92" stroke-dashoffset="0.52"/>
<line x1="5.5" y1="463.7" x2="972.5" y2="463.7" stroke="#9fa2ab" stroke-width="1" stroke-dasharray="3,2.92" stroke-dashoffset="0.52"/>
<line x1="5.5" y1="522.0" x2="972.5" y2="522.0" stroke="#9fa2ab" stroke-width="1" stroke-dasharray="3,2.92" stroke-dashoffset="0.52"/>
<polyline points="38.9,431.7 42.8,449.9 45.1,448.2 48.4,448.2 50.4,523.3 52.7,515.0 55.0,517.7 60.3,506.9 64.2,464.7 66.9,470.6 69.2,489.7 74.1,483.1 76.4,495.3 78.4,477.9 83.0,471.3 86.3,492.0 89.0,493.7 93.2,480.5 97.5,494.7 105.4,478.8 107.1,497.0 109.7,458.0 113.7,483.8 117.0,472.9 121.9,472.3 126.2,471.3 128.5,473.9 131.1,466.3 135.1,464.7 138.4,468.3 142.3,466.3 146.6,435.0 151.6,461.7 156.5,428.8 163.1,426.1 166.4,465.7 170.3,456.4 173.0,456.4 175.3,502.6 177.9,476.5 182.2,493.7 184.5,459.1 187.8,481.2 190.1,475.5 194.4,483.1 200.0,483.8 204.9,478.2 209.2,488.7 212.5,499.3 215.2,455.1 219.1,485.4 222.4,478.2 224.7,478.2 227.0,488.1 229.0,489.7 231.3,469.0 234.6,483.8 237.2,486.1 240.5,480.5 244.5,485.4 247.8,482.8 251.1,482.1 253.4,477.2 256.0,476.5 257.7,480.5 260.0,468.3 261.9,465.7 264.9,521.7 267.5,542.4 269.9,528.3 272.5,532.2 274.1,528.3 279.1,476.2 283.4,492.7 286.3,498.6 289.6,508.5 293.2,504.5 296.2,513.4 299.8,540.5 303.1,510.8 305.4,511.8 307.7,520.0 311.0,518.4 313.7,510.1 316.0,492.7 318.6,498.6 321.2,488.7 323.6,489.7 325.9,479.5 330.1,481.5 333.4,487.1 335.1,500.3 337.7,479.5 341.7,483.1 345.0,485.4 347.6,490.4 351.6,470.6 355.5,469.0 359.8,470.6 364.7,470.6 368.0,483.1 372.0,476.5 375.3,493.7 379.6,479.8 383.9,520.0 386.8,518.4 389.5,516.7 391.1,529.3 394.4,479.5 396.7,494.7 400.0,490.4 401.6,487.1 404.9,487.1 408.2,463.0 410.9,467.3 414.8,466.3 417.1,477.2 419.8,462.4 423.1,469.6 426.4,489.7 429.7,497.6 433.9,482.8 437.9,482.1 442.8,482.1 446.1,473.9 450.4,454.1 453.4,459.1 457.7,483.1 461.9,446.9 464.3,453.1 469.2,449.9 474.1,448.2 477.4,449.9 485.7,449.9 490.6,450.2 492.9,496.0 497.2,415.6 500.5,482.1 502.8,464.0 507.1,433.4 509.7,433.7 512.0,438.6 514.3,439.3 516.3,462.4 518.6,445.2 522.6,460.7 525.2,456.4 531.1,431.1 533.4,440.3 538.4,440.3 542.3,439.3 545.0,432.7 549.9,432.1 553.2,400.4 556.5,471.6 558.8,456.4 561.5,453.1 563.8,424.5 568.0,458.1 572.0,459.1 574.6,465.7 579.6,459.1 584.5,493.7 588.8,503.6 593.7,484.8 597.7,497.0 600.0,477.2 602.6,487.1 604.9,486.4 608.2,488.7 611.5,486.1 614.8,479.5 617.1,487.1 621.4,484.8 624.1,492.0 629.7,486.1 632.0,458.4 636.2,429.4 641.2,460.1 643.8,445.9 650.4,440.3 654.4,455.1 661.6,433.7 666.9,486.4 669.2,470.6 673.1,471.6 676.8,478.8 680.7,488.7 683.0,478.2 685.7,482.8 690.0,482.8 693.9,470.6 695.6,459.1 699.8,443.3 704.8,491.0 708.7,484.8 711.4,451.5 713.7,455.8 718.6,456.8 722.9,476.2 727.8,463.0 730.1,491.0 734.4,454.1 736.1,461.7 740.0,453.1 745.0,468.3 749.3,487.1 753.2,460.1 758.2,461.4 764.1,471.6 770.7,467.3 774.6,469.6 779.6,471.6 782.2,470.6 784.5,497.0 786.8,480.5 788.8,490.4 792.1,477.2 797.0,477.2 800.0,477.2 808.2,477.9 810.5,498.6 813.2,525.0 814.8,521.7 817.1,505.2 820.4,496.0 824.1,460.1 826.4,472.9 829.0,456.4 831.3,462.4 834.6,460.7 836.2,465.7 838.9,480.5 841.2,470.6 844.5,492.0 847.8,493.7 850.4,532.6 852.7,532.6 855.0,472.3 857.0,472.3 860.3,492.0 864.3,499.3 867.5,501.3 871.8,501.3 875.1,501.3 877.4,504.5 880.7,504.5 892.3,504.5 897.2,506.9 900.5,514.4 902.1,523.3 904.8,532.2 907.1,529.3 911.0,529.9 913.7,527.6 916.0,506.9 918.6,514.4 920.9,498.6 923.6,505.9 926.2,496.9 929.5,454.1 932.8,438.6 934.4,478.8 936.1,529.9 937.7,567.1 940.0,566.2 942.7,554.6 944.3,520.0 946.6,519.0" fill="none" stroke="#8563c9" stroke-width="0.8" stroke-linejoin="round"/>
</g>
<g clip-path="url(#ct)">
<text x="8.5" y="583" font-size="6.9" fill="#131722" text-anchor="middle">02:00</text>
<text x="55.5" y="583" font-size="6.9" fill="#131722" text-anchor="middle">12:00</text>
<text x="111.5" y="583" font-size="6.9" fill="#131722" text-anchor="middle">2</text>
<text x="168.5" y="583" font-size="6.9" fill="#131722" text-anchor="middle">12:00</text>
<text x="224.5" y="583" font-size="6.9" fill="#131722" text-anchor="middle">3</text>
<text x="281.5" y="583" font-size="6.9" fill="#131722" text-anchor="middle">12:00</text>
<text x="338" y="583" font-size="6.9" fill="#131722" text-anchor="middle">4</text>
<text x="394" y="583" font-size="6.9" fill="#131722" text-anchor="middle">12:00</text>
<text x="450.5" y="583" font-size="6.9" fill="#131722" text-anchor="middle" font-weight="bold">5</text>
<text x="507" y="583" font-size="6.9" fill="#131722" text-anchor="middle">12:00</text>
<text x="563" y="583" font-size="6.9" fill="#131722" text-anchor="middle">6</text>
<text x="619.5" y="583" font-size="6.9" fill="#131722" text-anchor="middle">12:00</text>
<text x="676" y="583" font-size="6.9" fill="#131722" text-anchor="middle">7</text>
<text x="732.5" y="583" font-size="6.9" fill="#131722" text-anchor="middle">12:00</text>
<text x="788.5" y="583" font-size="6.9" fill="#131722" text-anchor="middle">8</text>
<text x="845.5" y="583" font-size="6.9" fill="#131722" text-anchor="middle">12:00</text>
<text x="901.5" y="583" font-size="6.9" fill="#131722" text-anchor="middle">9</text>
<text x="958.5" y="583" font-size="6.9" fill="#131722" text-anchor="middle">12:00</text>
</g>
<text x="977.5" y="39.8" font-size="7.35" fill="#131722">0.0019000</text>
<text x="977.5" y="58.4" font-size="7.35" fill="#131722">0.0018000</text>
<text x="977.5" y="77.0" font-size="7.35" fill="#131722">0.0017000</text>
<text x="977.5" y="95.6" font-size="7.35" fill="#131722">0.0016000</text>
<text x="977.5" y="114.2" font-size="7.35" fill="#131722">0.0015000</text>
<text x="977.5" y="132.8" font-size="7.35" fill="#131722">0.0014000</text>
<text x="977.5" y="151.4" font-size="7.35" fill="#131722">0.0013000</text>
<text x="977.5" y="170.0" font-size="7.35" fill="#131722">0.0012000</text>
<text x="977.5" y="188.6" font-size="7.35" fill="#131722">0.0011000</text>
<text x="977.5" y="207.2" font-size="7.35" fill="#131722">0.0010000</text>
<text x="977.5" y="225.8" font-size="7.35" fill="#131722">0.0009000</text>
<text x="977.5" y="244.4" font-size="7.35" fill="#131722">0.0008000</text>
<text x="977.5" y="263.0" font-size="7.35" fill="#131722">0.0007000</text>
<text x="977.5" y="300.2" font-size="7.35" fill="#131722">0.0005000</text>
<text x="977.5" y="318.8" font-size="7.35" fill="#131722">0.0004000</text>
<text x="977.5" y="337.4" font-size="7.35" fill="#131722">0.0003000</text>
<text x="977.5" y="356.0" font-size="7.35" fill="#131722">0.0002000</text>
<text x="977.5" y="374.6" font-size="7.35" fill="#131722">0.0001000</text>
<text x="977.4" y="407.7" font-size="7.3" fill="#131722">70.00</text>
<text x="977.4" y="436.9" font-size="7.3" fill="#131722">60.00</text>
<text x="977.4" y="466.0" font-size="7.3" fill="#131722">50.00</text>
<text x="977.4" y="495.2" font-size="7.3" fill="#131722">40.00</text>
<text x="977.4" y="524.3" font-size="7.3" fill="#131722">30.00</text>
<text x="977.4" y="553.5" font-size="7.3" fill="#131722">20.00</text>
<text x="977.2" y="24.4" font-size="6.9" fill="#131722">USDT</text>
<!-- frame -->
<line x1="972.7" y1="14.5" x2="972.7" y2="587.8" stroke="#e6e8ec" stroke-width="1"/>
<line x1="5.5" y1="386.6" x2="1018.5" y2="386.6" stroke="#e6e8ec" stroke-width="1"/>
<line x1="5.5" y1="573" x2="1018.5" y2="573" stroke="#e6e8ec" stroke-width="1"/>
<!-- legend -->
<text x="9.9" y="26.8" font-size="6.9" fill="#131722">Lucky Block/Tether, 30, GATEIO<tspan x="111">O</tspan><tspan fill="#26a69a">0.0006078</tspan><tspan x="153.3">H</tspan><tspan fill="#26a69a">0.0006086</tspan><tspan x="196">L</tspan><tspan fill="#26a69a">0.0006072</tspan><tspan x="237">C</tspan><tspan fill="#26a69a">0.0006085</tspan><tspan x="280" fill="#26a69a">−0.0000001 (−0.02%)</tspan></text>
<text x="9.9" y="35.9" font-size="6.9" fill="#131722">Vol<tspan x="22.8" fill="#26a69a">58.975K</tspan></text>
<text x="9.9" y="45.0" font-size="6.9" fill="#131722">MA (30, close, 0)<tspan x="65.5" fill="#f44336">0.0007078</tspan></text>
<text x="9.9" y="54.1" font-size="6.9" fill="#131722">MA (200, close, 0)<tspan x="70" fill="#2962ff">0.0008201</tspan></text>
<text x="9.9" y="399" font-size="6.75" fill="#131722">RSI (14, close)<tspan x="57.7" fill="#8462c8">30.78</tspan></text>
<!-- tags -->
<rect x="922" y="273.1" width="49" height="8.9" rx="1.5" fill="#26a69a"/>
<text x="946.5" y="280.2" font-size="6.5" fill="#fff" text-anchor="middle">LBLOCKUSDT</text>
<path d="M972.5,273.1 H1014 a1.6,1.6 0 0 1 1.6,1.6 V288.2 a1.6,1.6 0 0 1 -1.6,1.6 H972.5 Z" fill="#26a69a"/>
<text x="978" y="280.4" font-size="7.3" fill="#fff">0.0006085</text>
<text x="978" y="288" font-size="7.3" fill="#fff">22:24</text>
<!-- logo -->
<g fill="#131722">
<path d="M5.3,594.4 H9.9 V599.7 H7.3 V596.1 H5.3 Z"/>
<circle cx="11.45" cy="595.3" r="0.9"/>
<path d="M13.4,594.4 H15.8 L13.9,599.7 H11.5 Z"/>
</g>
<text x="18.3" y="599.7" font-size="6.8" font-weight="bold" fill="#2a2e39">TradingView</text>
</svg>
</body></html>
